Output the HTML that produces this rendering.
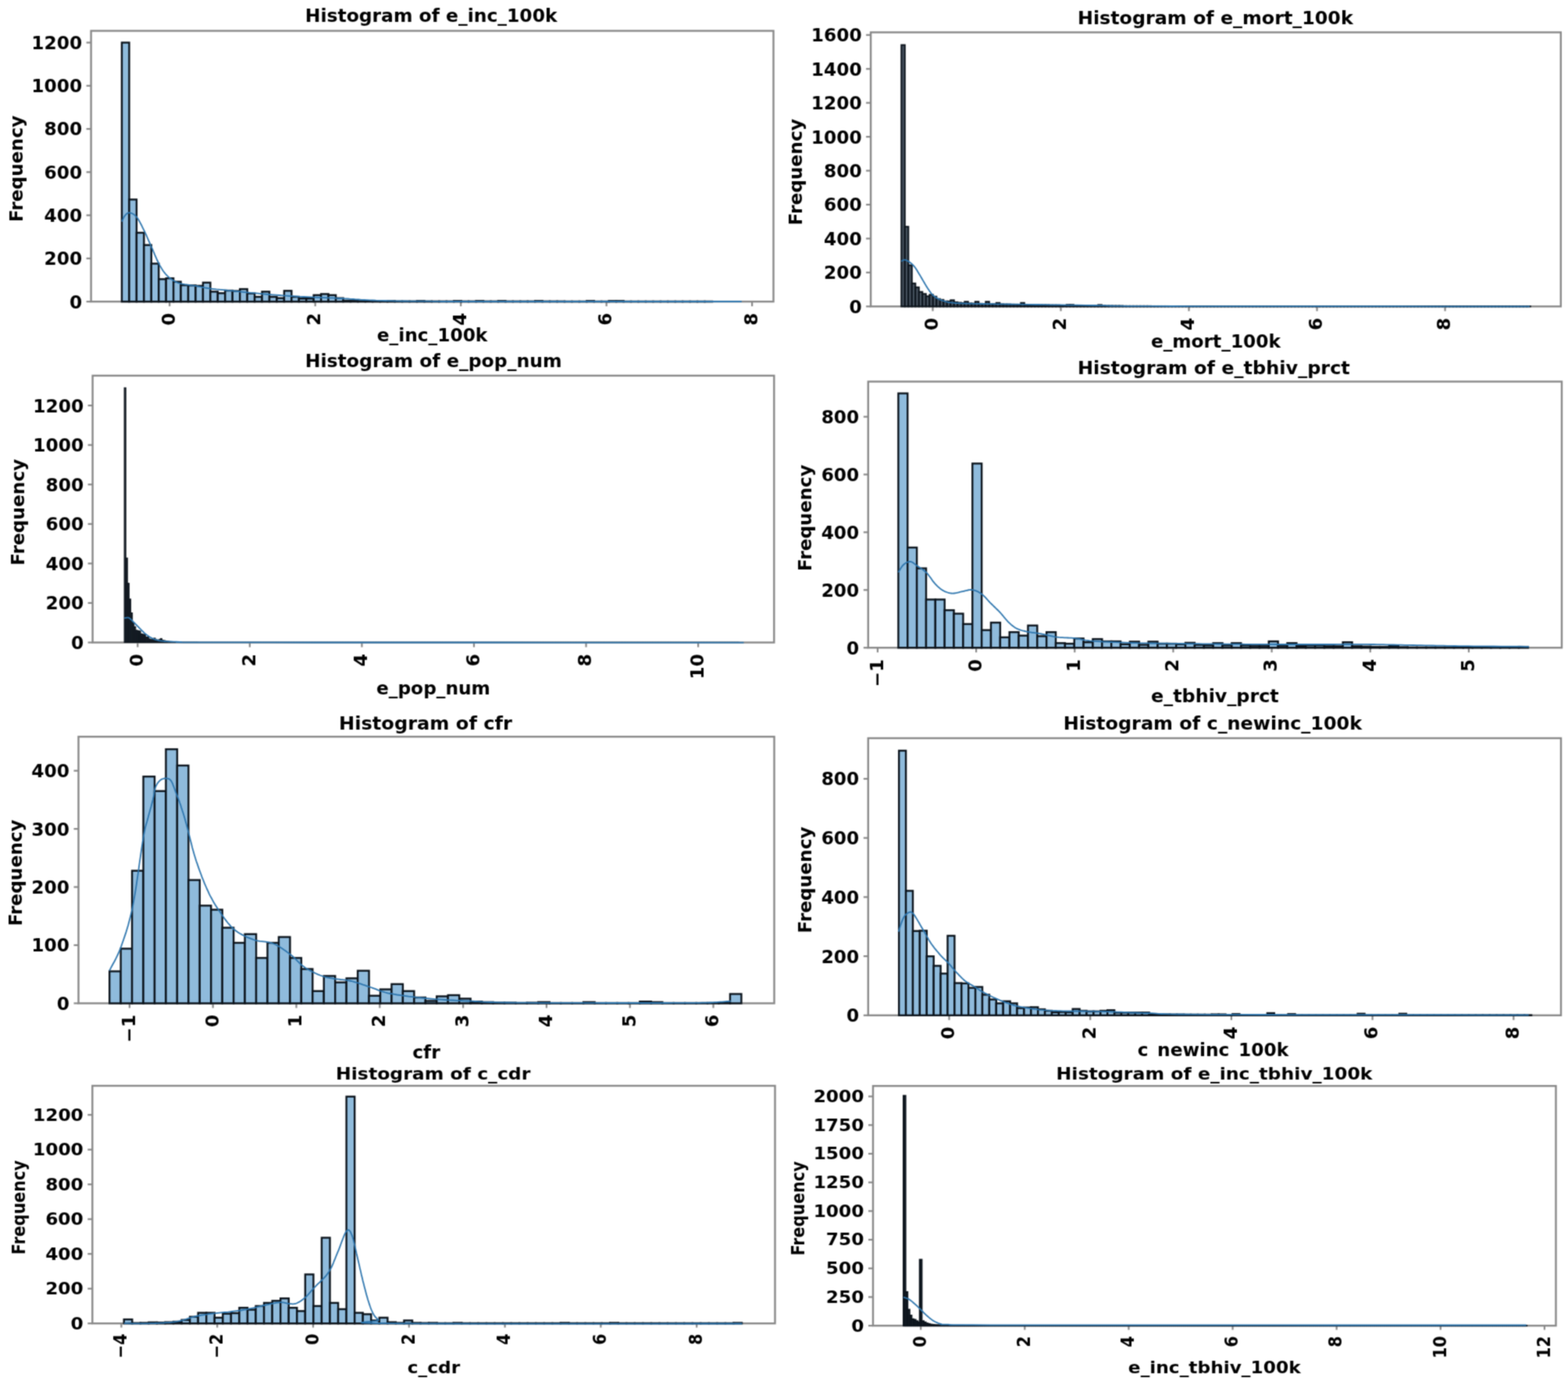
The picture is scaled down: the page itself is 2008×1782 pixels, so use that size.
<!DOCTYPE html>
<html><head><meta charset="utf-8"><title>Histograms</title>
<style>html,body{margin:0;padding:0;background:#fff;overflow:hidden;width:2008px;height:1782px;}svg{display:block;}#w{filter:url(#soft);}</style></head>
<body><div id="w"><svg width="2008" height="1782" viewBox="0 0 2008 1782" font-family="'DejaVu Sans', 'Liberation Sans', sans-serif" font-weight="bold" font-size="23.30" fill="#000">
<defs><filter id="soft" color-interpolation-filters="sRGB" x="0" y="0" width="2008" height="1782" filterUnits="userSpaceOnUse"><feConvolveMatrix order="3" kernelMatrix="0.04387 0.12171 0.04387 0.12171 0.33767 0.12171 0.04387 0.12171 0.04387" edgeMode="duplicate" preserveAlpha="true"/></filter></defs>
<g><rect width="2008" height="1782" fill="#fff"/>
<rect x="116.60" y="39.50" width="873.90" height="346.60" fill="none" stroke="#888888" stroke-width="2.4"/><g stroke="#888888" stroke-width="2.2"><line x1="110.60" y1="386.10" x2="116.60" y2="386.10"/><line x1="110.60" y1="330.84" x2="116.60" y2="330.84"/><line x1="110.60" y1="275.58" x2="116.60" y2="275.58"/><line x1="110.60" y1="220.32" x2="116.60" y2="220.32"/><line x1="110.60" y1="165.06" x2="116.60" y2="165.06"/><line x1="110.60" y1="109.80" x2="116.60" y2="109.80"/><line x1="110.60" y1="54.54" x2="116.60" y2="54.54"/><line x1="217.20" y1="386.10" x2="217.20" y2="392.10"/><line x1="403.68" y1="386.10" x2="403.68" y2="392.10"/><line x1="590.16" y1="386.10" x2="590.16" y2="392.10"/><line x1="776.64" y1="386.10" x2="776.64" y2="392.10"/><line x1="963.12" y1="386.10" x2="963.12" y2="392.10"/></g><g fill="#8fbbdc" stroke="#0b131b" stroke-width="2.40"><rect x="156.00" y="54.54" width="9.45" height="331.56"/><rect x="165.45" y="255.41" width="9.45" height="130.69"/><rect x="174.90" y="297.96" width="9.45" height="88.14"/><rect x="184.35" y="313.71" width="9.45" height="72.39"/><rect x="193.80" y="337.47" width="9.45" height="48.63"/><rect x="203.25" y="357.36" width="9.45" height="28.74"/><rect x="212.70" y="356.26" width="9.45" height="29.84"/><rect x="222.15" y="360.68" width="9.45" height="25.42"/><rect x="231.60" y="365.10" width="9.45" height="21.00"/><rect x="241.05" y="365.38" width="9.45" height="20.72"/><rect x="250.50" y="365.93" width="9.45" height="20.17"/><rect x="259.95" y="361.79" width="9.45" height="24.31"/><rect x="269.40" y="373.39" width="9.45" height="12.71"/><rect x="278.85" y="375.32" width="9.45" height="10.78"/><rect x="288.30" y="372.01" width="9.45" height="14.09"/><rect x="297.75" y="372.56" width="9.45" height="13.54"/><rect x="307.20" y="370.07" width="9.45" height="16.03"/><rect x="316.65" y="375.60" width="9.45" height="10.50"/><rect x="326.10" y="380.02" width="9.45" height="6.08"/><rect x="335.55" y="373.39" width="9.45" height="12.71"/><rect x="345.00" y="380.02" width="9.45" height="6.08"/><rect x="354.45" y="381.68" width="9.45" height="4.42"/><rect x="363.90" y="372.29" width="9.45" height="13.81"/><rect x="373.35" y="380.02" width="9.45" height="6.08"/><rect x="382.80" y="382.23" width="9.45" height="3.87"/><rect x="392.25" y="382.23" width="9.45" height="3.87"/><rect x="401.70" y="377.81" width="9.45" height="8.29"/><rect x="411.15" y="376.43" width="9.45" height="9.67"/><rect x="420.60" y="377.81" width="9.45" height="8.29"/><rect x="430.05" y="381.68" width="9.45" height="4.42"/><rect x="439.50" y="384.99" width="9.45" height="1.11"/><rect x="448.95" y="385.27" width="9.45" height="0.83"/><rect x="458.40" y="385.55" width="9.45" height="0.55"/><rect x="467.85" y="385.69" width="9.45" height="0.41"/><rect x="477.30" y="385.82" width="9.45" height="0.28"/><rect x="486.75" y="385.82" width="9.45" height="0.28"/><rect x="496.20" y="385.27" width="9.45" height="0.83"/><rect x="505.65" y="385.82" width="9.45" height="0.28"/><rect x="515.10" y="385.82" width="9.45" height="0.28"/><rect x="524.55" y="385.82" width="9.45" height="0.28"/><rect x="534.00" y="385.27" width="9.45" height="0.83"/><rect x="543.45" y="385.82" width="9.45" height="0.28"/><rect x="552.90" y="385.82" width="9.45" height="0.28"/><rect x="562.35" y="385.82" width="9.45" height="0.28"/><rect x="571.80" y="385.82" width="9.45" height="0.28"/><rect x="581.25" y="385.27" width="9.45" height="0.83"/><rect x="590.70" y="385.82" width="9.45" height="0.28"/><rect x="600.15" y="385.82" width="9.45" height="0.28"/><rect x="609.60" y="385.27" width="9.45" height="0.83"/><rect x="619.05" y="385.82" width="9.45" height="0.28"/><rect x="628.50" y="385.82" width="9.45" height="0.28"/><rect x="637.95" y="385.27" width="9.45" height="0.83"/><rect x="647.40" y="385.82" width="9.45" height="0.28"/><rect x="656.85" y="385.82" width="9.45" height="0.28"/><rect x="666.30" y="385.82" width="9.45" height="0.28"/><rect x="675.75" y="385.82" width="9.45" height="0.28"/><rect x="685.20" y="385.27" width="9.45" height="0.83"/><rect x="694.65" y="385.82" width="9.45" height="0.28"/><rect x="704.10" y="385.82" width="9.45" height="0.28"/><rect x="713.55" y="385.82" width="9.45" height="0.28"/><rect x="723.00" y="385.96" width="9.45" height="0.14"/><rect x="732.45" y="385.96" width="9.45" height="0.14"/><rect x="741.90" y="385.96" width="9.45" height="0.14"/><rect x="751.35" y="385.27" width="9.45" height="0.83"/><rect x="760.80" y="385.96" width="9.45" height="0.14"/><rect x="770.25" y="385.96" width="9.45" height="0.14"/><rect x="779.70" y="385.27" width="9.45" height="0.83"/><rect x="789.15" y="385.27" width="9.45" height="0.83"/><rect x="798.60" y="385.96" width="9.45" height="0.14"/><rect x="808.05" y="385.96" width="9.45" height="0.14"/><rect x="817.50" y="385.96" width="9.45" height="0.14"/><rect x="826.95" y="385.96" width="9.45" height="0.14"/><rect x="836.40" y="385.96" width="9.45" height="0.14"/><rect x="845.85" y="385.96" width="9.45" height="0.14"/><rect x="855.30" y="385.96" width="9.45" height="0.14"/><rect x="864.75" y="385.96" width="9.45" height="0.14"/><rect x="874.20" y="385.96" width="9.45" height="0.14"/><rect x="883.65" y="385.96" width="9.45" height="0.14"/><rect x="893.10" y="385.96" width="9.45" height="0.14"/><rect x="902.55" y="385.96" width="9.45" height="0.14"/></g><path d="M156.0 283.6 L156.2 283.1 L156.5 282.5 L156.9 281.8 L157.2 280.9 L157.6 280.0 L158.1 279.1 L158.5 278.2 L159.0 277.4 L159.5 276.6 L160.0 276.0 L160.5 275.4 L161.0 274.9 L161.5 274.3 L162.0 273.8 L162.5 273.4 L163.1 273.0 L163.7 272.7 L164.3 272.5 L165.0 272.4 L165.7 272.4 L166.5 272.5 L167.3 272.7 L168.2 272.9 L169.1 273.3 L170.0 273.7 L171.0 274.2 L171.9 274.9 L172.9 275.7 L173.9 276.6 L174.8 277.6 L175.7 278.8 L176.7 280.2 L177.6 281.7 L178.6 283.4 L179.5 285.1 L180.5 287.0 L181.5 288.9 L182.4 290.8 L183.4 292.8 L184.4 294.8 L185.4 296.8 L186.4 299.0 L187.4 301.2 L188.4 303.5 L189.4 305.8 L190.4 308.1 L191.4 310.4 L192.4 312.7 L193.4 315.0 L194.4 317.2 L195.4 319.4 L196.3 321.6 L197.3 323.8 L198.2 326.1 L199.2 328.3 L200.1 330.4 L201.0 332.5 L202.0 334.5 L202.9 336.4 L203.8 338.2 L204.7 339.9 L205.6 341.4 L206.5 342.9 L207.4 344.4 L208.2 345.7 L209.1 347.0 L210.0 348.2 L210.9 349.4 L211.8 350.5 L212.8 351.6 L213.8 352.7 L214.8 353.6 L215.8 354.6 L216.9 355.5 L217.9 356.3 L219.0 357.1 L220.0 357.8 L221.1 358.5 L222.1 359.2 L223.2 359.8 L224.2 360.4 L225.2 360.9 L226.1 361.3 L227.0 361.7 L228.0 362.1 L229.0 362.4 L230.0 362.7 L231.1 363.0 L232.3 363.3 L233.7 363.6 L235.2 363.9 L236.8 364.2 L238.5 364.4 L240.3 364.7 L242.2 364.9 L244.1 365.2 L246.0 365.4 L247.9 365.7 L249.8 365.9 L251.6 366.2 L253.3 366.5 L255.0 366.8 L256.6 367.1 L258.2 367.5 L259.8 367.8 L261.5 368.2 L263.2 368.5 L265.2 368.8 L267.2 369.2 L269.5 369.5 L271.9 369.8 L274.5 370.1 L277.1 370.4 L279.9 370.6 L282.8 370.9 L285.8 371.2 L289.0 371.5 L292.3 371.8 L295.8 372.1 L299.4 372.5 L303.3 372.9 L307.4 373.3 L311.7 373.8 L316.2 374.3 L320.9 374.8 L325.6 375.2 L330.3 375.7 L335.0 376.2 L339.7 376.6 L344.2 377.0 L348.7 377.4 L353.2 377.7 L357.6 378.0 L362.1 378.4 L366.6 378.7 L371.1 379.0 L375.6 379.2 L380.0 379.5 L384.5 379.8 L389.0 380.0 L393.5 380.2 L398.1 380.4 L402.7 380.6 L407.4 380.8 L412.0 380.9 L416.6 381.1 L421.1 381.3 L425.5 381.4 L429.8 381.6 L433.9 381.8 L437.8 382.0 L441.6 382.3 L445.3 382.5 L448.8 382.8 L452.3 383.0 L455.7 383.3 L459.2 383.5 L462.7 383.8 L466.3 384.0 L470.0 384.2 L473.8 384.4 L477.6 384.5 L481.4 384.7 L485.2 384.8 L489.1 384.9 L493.1 385.0 L497.1 385.1 L501.3 385.2 L505.6 385.3 L510.0 385.4 L514.6 385.5 L519.5 385.5 L524.6 385.6 L529.8 385.6 L535.0 385.7 L540.2 385.7 L545.4 385.7 L550.5 385.7 L555.4 385.8 L560.0 385.8 L563.0 385.8 L563.7 385.9 L563.0 385.9 L561.8 385.9 L561.3 385.9 L562.2 385.9 L565.5 386.0 L572.3 386.0 L583.5 386.0 L600.0 386.0 L624.0 386.0 L655.7 386.0 L693.2 386.0 L734.4 386.0 L777.4 386.0 L820.2 386.0 L860.8 386.0 L897.3 386.0 L927.6 386.0 L949.8 386.0" fill="none" stroke="#2b74ad" stroke-width="1.80" stroke-linejoin="round"/><g><text transform="translate(105.10 394.50)" text-anchor="end">0</text><text transform="translate(105.10 339.24)" text-anchor="end">200</text><text transform="translate(105.10 283.98)" text-anchor="end">400</text><text transform="translate(105.10 228.72)" text-anchor="end">600</text><text transform="translate(105.10 173.46)" text-anchor="end">800</text><text transform="translate(105.10 118.20)" text-anchor="end">1000</text><text transform="translate(105.10 62.94)" text-anchor="end">1200</text><text transform="translate(224.00 400.60) rotate(-90)" text-anchor="end">0</text><text transform="translate(410.48 400.60) rotate(-90)" text-anchor="end">2</text><text transform="translate(596.96 400.60) rotate(-90)" text-anchor="end">4</text><text transform="translate(783.44 400.60) rotate(-90)" text-anchor="end">6</text><text transform="translate(969.92 400.60) rotate(-90)" text-anchor="end">8</text></g><text transform="translate(552.20 28.30) scale(1.0070 1.0000)" text-anchor="middle">Histogram of e_inc_100k</text><text transform="translate(553.55 436.80)" text-anchor="middle">e_inc_100k</text><text transform="translate(29.40 216.00) rotate(-90)" text-anchor="middle">Frequency</text><rect x="1115.10" y="41.40" width="883.70" height="350.90" fill="none" stroke="#888888" stroke-width="2.4"/><g stroke="#888888" stroke-width="2.2"><line x1="1109.10" y1="392.30" x2="1115.10" y2="392.30"/><line x1="1109.10" y1="348.86" x2="1115.10" y2="348.86"/><line x1="1109.10" y1="305.42" x2="1115.10" y2="305.42"/><line x1="1109.10" y1="261.98" x2="1115.10" y2="261.98"/><line x1="1109.10" y1="218.54" x2="1115.10" y2="218.54"/><line x1="1109.10" y1="175.10" x2="1115.10" y2="175.10"/><line x1="1109.10" y1="131.66" x2="1115.10" y2="131.66"/><line x1="1109.10" y1="88.22" x2="1115.10" y2="88.22"/><line x1="1109.10" y1="44.78" x2="1115.10" y2="44.78"/><line x1="1194.50" y1="392.30" x2="1194.50" y2="398.30"/><line x1="1358.52" y1="392.30" x2="1358.52" y2="398.30"/><line x1="1522.54" y1="392.30" x2="1522.54" y2="398.30"/><line x1="1686.56" y1="392.30" x2="1686.56" y2="398.30"/><line x1="1850.58" y1="392.30" x2="1850.58" y2="398.30"/></g><g fill="#46525e" stroke="#0b131b" stroke-width="2.00"><rect x="1154.30" y="57.59" width="4.50" height="334.71"/><rect x="1158.80" y="290.22" width="4.50" height="102.08"/><rect x="1163.30" y="339.52" width="4.50" height="52.78"/><rect x="1167.80" y="362.76" width="4.50" height="29.54"/><rect x="1172.30" y="367.76" width="4.50" height="24.54"/><rect x="1176.80" y="373.62" width="4.50" height="18.68"/><rect x="1181.30" y="376.23" width="4.50" height="16.07"/><rect x="1185.80" y="379.27" width="4.50" height="13.03"/><rect x="1190.30" y="377.31" width="4.50" height="14.99"/><rect x="1194.80" y="379.70" width="4.50" height="12.60"/><rect x="1199.30" y="382.74" width="4.50" height="9.56"/><rect x="1203.80" y="383.83" width="4.50" height="8.47"/><rect x="1208.30" y="385.78" width="4.50" height="6.52"/><rect x="1212.80" y="385.78" width="4.50" height="6.52"/><rect x="1217.30" y="384.26" width="4.50" height="8.04"/><rect x="1221.80" y="386.87" width="4.50" height="5.43"/><rect x="1226.30" y="387.52" width="4.50" height="4.78"/><rect x="1230.80" y="387.96" width="4.50" height="4.34"/><rect x="1235.30" y="386.22" width="4.50" height="6.08"/><rect x="1239.80" y="388.39" width="4.50" height="3.91"/><rect x="1244.30" y="388.61" width="4.50" height="3.69"/><rect x="1248.80" y="386.22" width="4.50" height="6.08"/><rect x="1253.30" y="388.82" width="4.50" height="3.48"/><rect x="1257.80" y="389.04" width="4.50" height="3.26"/><rect x="1262.30" y="386.22" width="4.50" height="6.08"/><rect x="1266.80" y="389.26" width="4.50" height="3.04"/><rect x="1271.30" y="389.26" width="4.50" height="3.04"/><rect x="1275.80" y="387.74" width="4.50" height="4.56"/><rect x="1280.30" y="389.48" width="4.50" height="2.82"/><rect x="1284.80" y="389.69" width="4.50" height="2.61"/><rect x="1289.30" y="389.69" width="4.50" height="2.61"/><rect x="1293.80" y="389.91" width="4.50" height="2.39"/><rect x="1298.30" y="389.91" width="4.50" height="2.39"/><rect x="1302.80" y="390.13" width="4.50" height="2.17"/><rect x="1307.30" y="387.74" width="4.50" height="4.56"/><rect x="1311.80" y="390.13" width="4.50" height="2.17"/><rect x="1316.30" y="390.35" width="4.50" height="1.95"/><rect x="1320.80" y="390.35" width="4.50" height="1.95"/><rect x="1325.30" y="390.35" width="4.50" height="1.95"/><rect x="1329.80" y="390.56" width="4.50" height="1.74"/><rect x="1334.30" y="390.56" width="4.50" height="1.74"/><rect x="1338.80" y="390.56" width="4.50" height="1.74"/><rect x="1343.30" y="390.78" width="4.50" height="1.52"/><rect x="1347.80" y="390.78" width="4.50" height="1.52"/><rect x="1352.30" y="390.78" width="4.50" height="1.52"/><rect x="1356.80" y="391.00" width="4.50" height="1.30"/><rect x="1361.30" y="391.00" width="4.50" height="1.30"/><rect x="1365.80" y="390.13" width="4.50" height="2.17"/><rect x="1370.30" y="390.13" width="4.50" height="2.17"/><rect x="1374.80" y="391.21" width="4.50" height="1.09"/><rect x="1379.30" y="391.21" width="4.50" height="1.09"/><rect x="1383.80" y="391.21" width="4.50" height="1.09"/><rect x="1388.30" y="391.43" width="4.50" height="0.87"/><rect x="1392.80" y="391.43" width="4.50" height="0.87"/><rect x="1397.30" y="391.43" width="4.50" height="0.87"/><rect x="1401.80" y="391.43" width="4.50" height="0.87"/><rect x="1406.30" y="390.35" width="4.50" height="1.95"/><rect x="1410.80" y="391.43" width="4.50" height="0.87"/><rect x="1415.30" y="391.65" width="4.50" height="0.65"/><rect x="1419.80" y="391.65" width="4.50" height="0.65"/><rect x="1424.30" y="391.65" width="4.50" height="0.65"/><rect x="1428.80" y="391.65" width="4.50" height="0.65"/><rect x="1433.30" y="391.65" width="4.50" height="0.65"/><rect x="1437.80" y="391.87" width="4.50" height="0.43"/><rect x="1442.30" y="391.87" width="4.50" height="0.43"/><rect x="1446.80" y="391.87" width="4.50" height="0.43"/><rect x="1451.30" y="391.87" width="4.50" height="0.43"/><rect x="1455.80" y="391.87" width="4.50" height="0.43"/><rect x="1460.30" y="391.87" width="4.50" height="0.43"/><rect x="1464.80" y="391.87" width="4.50" height="0.43"/><rect x="1469.30" y="391.87" width="4.50" height="0.43"/><rect x="1473.80" y="391.97" width="4.50" height="0.33"/><rect x="1478.30" y="391.97" width="4.50" height="0.33"/><rect x="1482.80" y="391.97" width="4.50" height="0.33"/><rect x="1487.30" y="391.97" width="4.50" height="0.33"/><rect x="1491.80" y="391.97" width="4.50" height="0.33"/><rect x="1496.30" y="392.08" width="4.50" height="0.22"/><rect x="1500.80" y="392.08" width="4.50" height="0.22"/><rect x="1505.30" y="392.08" width="4.50" height="0.22"/><rect x="1509.80" y="392.08" width="4.50" height="0.22"/><rect x="1514.30" y="392.08" width="4.50" height="0.22"/><rect x="1518.80" y="392.08" width="4.50" height="0.22"/><rect x="1523.30" y="392.08" width="4.50" height="0.22"/><rect x="1527.80" y="392.08" width="4.50" height="0.22"/><rect x="1532.30" y="392.08" width="4.50" height="0.22"/><rect x="1536.80" y="392.08" width="4.50" height="0.22"/><rect x="1541.30" y="392.08" width="4.50" height="0.22"/><rect x="1545.80" y="392.08" width="4.50" height="0.22"/><rect x="1550.30" y="392.08" width="4.50" height="0.22"/><rect x="1554.80" y="392.19" width="4.50" height="0.11"/><rect x="1559.30" y="392.19" width="4.50" height="0.11"/><rect x="1563.80" y="392.19" width="4.50" height="0.11"/><rect x="1568.30" y="392.19" width="4.50" height="0.11"/><rect x="1572.80" y="392.19" width="4.50" height="0.11"/><rect x="1577.30" y="392.19" width="4.50" height="0.11"/><rect x="1581.80" y="392.19" width="4.50" height="0.11"/><rect x="1586.30" y="392.19" width="4.50" height="0.11"/><rect x="1590.80" y="392.19" width="4.50" height="0.11"/><rect x="1595.30" y="392.19" width="4.50" height="0.11"/><rect x="1599.80" y="392.19" width="4.50" height="0.11"/><rect x="1604.30" y="392.19" width="4.50" height="0.11"/><rect x="1608.80" y="392.19" width="4.50" height="0.11"/><rect x="1613.30" y="392.19" width="4.50" height="0.11"/><rect x="1617.80" y="392.19" width="4.50" height="0.11"/><rect x="1622.30" y="392.19" width="4.50" height="0.11"/><rect x="1626.80" y="392.19" width="4.50" height="0.11"/><rect x="1631.30" y="392.19" width="4.50" height="0.11"/><rect x="1635.80" y="392.19" width="4.50" height="0.11"/><rect x="1640.30" y="392.19" width="4.50" height="0.11"/><rect x="1644.80" y="392.19" width="4.50" height="0.11"/><rect x="1649.30" y="392.19" width="4.50" height="0.11"/><rect x="1653.80" y="392.19" width="4.50" height="0.11"/><rect x="1658.30" y="392.19" width="4.50" height="0.11"/><rect x="1662.80" y="392.19" width="4.50" height="0.11"/><rect x="1667.30" y="392.19" width="4.50" height="0.11"/><rect x="1671.80" y="392.19" width="4.50" height="0.11"/><rect x="1676.30" y="392.19" width="4.50" height="0.11"/><rect x="1680.80" y="392.19" width="4.50" height="0.11"/><rect x="1685.30" y="392.19" width="4.50" height="0.11"/><rect x="1689.80" y="392.19" width="4.50" height="0.11"/><rect x="1694.30" y="392.19" width="4.50" height="0.11"/><rect x="1698.80" y="392.19" width="4.50" height="0.11"/><rect x="1703.30" y="392.19" width="4.50" height="0.11"/><rect x="1707.80" y="392.19" width="4.50" height="0.11"/><rect x="1712.30" y="392.19" width="4.50" height="0.11"/><rect x="1716.80" y="392.19" width="4.50" height="0.11"/><rect x="1721.30" y="392.19" width="4.50" height="0.11"/><rect x="1725.80" y="392.19" width="4.50" height="0.11"/><rect x="1730.30" y="392.19" width="4.50" height="0.11"/><rect x="1734.80" y="392.19" width="4.50" height="0.11"/><rect x="1739.30" y="392.19" width="4.50" height="0.11"/><rect x="1743.80" y="392.19" width="4.50" height="0.11"/><rect x="1748.30" y="392.19" width="4.50" height="0.11"/><rect x="1752.80" y="392.19" width="4.50" height="0.11"/><rect x="1757.30" y="392.19" width="4.50" height="0.11"/><rect x="1761.80" y="392.19" width="4.50" height="0.11"/><rect x="1766.30" y="392.19" width="4.50" height="0.11"/><rect x="1770.80" y="392.19" width="4.50" height="0.11"/><rect x="1775.30" y="392.19" width="4.50" height="0.11"/><rect x="1779.80" y="392.19" width="4.50" height="0.11"/><rect x="1784.30" y="392.19" width="4.50" height="0.11"/><rect x="1788.80" y="392.19" width="4.50" height="0.11"/><rect x="1793.30" y="392.19" width="4.50" height="0.11"/><rect x="1797.80" y="392.19" width="4.50" height="0.11"/><rect x="1802.30" y="392.19" width="4.50" height="0.11"/><rect x="1806.80" y="392.19" width="4.50" height="0.11"/><rect x="1811.30" y="392.19" width="4.50" height="0.11"/><rect x="1815.80" y="392.19" width="4.50" height="0.11"/><rect x="1820.30" y="392.19" width="4.50" height="0.11"/><rect x="1824.80" y="392.19" width="4.50" height="0.11"/><rect x="1829.30" y="392.19" width="4.50" height="0.11"/><rect x="1833.80" y="392.19" width="4.50" height="0.11"/><rect x="1838.30" y="392.19" width="4.50" height="0.11"/><rect x="1842.80" y="392.19" width="4.50" height="0.11"/><rect x="1847.30" y="392.19" width="4.50" height="0.11"/><rect x="1851.80" y="392.19" width="4.50" height="0.11"/><rect x="1856.30" y="392.19" width="4.50" height="0.11"/><rect x="1860.80" y="392.19" width="4.50" height="0.11"/><rect x="1865.30" y="392.19" width="4.50" height="0.11"/><rect x="1869.80" y="392.19" width="4.50" height="0.11"/><rect x="1874.30" y="392.19" width="4.50" height="0.11"/><rect x="1878.80" y="392.19" width="4.50" height="0.11"/><rect x="1883.30" y="392.19" width="4.50" height="0.11"/><rect x="1887.80" y="392.19" width="4.50" height="0.11"/><rect x="1892.30" y="392.19" width="4.50" height="0.11"/><rect x="1896.80" y="392.19" width="4.50" height="0.11"/><rect x="1901.30" y="392.19" width="4.50" height="0.11"/><rect x="1905.80" y="392.19" width="4.50" height="0.11"/><rect x="1910.30" y="392.19" width="4.50" height="0.11"/><rect x="1914.80" y="392.19" width="4.50" height="0.11"/><rect x="1919.30" y="392.19" width="4.50" height="0.11"/><rect x="1923.80" y="392.19" width="4.50" height="0.11"/><rect x="1928.30" y="392.19" width="4.50" height="0.11"/><rect x="1932.80" y="392.19" width="4.50" height="0.11"/><rect x="1937.30" y="392.19" width="4.50" height="0.11"/><rect x="1941.80" y="392.19" width="4.50" height="0.11"/><rect x="1946.30" y="392.19" width="4.50" height="0.11"/><rect x="1950.80" y="392.19" width="4.50" height="0.11"/><rect x="1955.30" y="392.19" width="4.50" height="0.11"/></g><path d="M1154.3 334.5 L1154.6 334.4 L1155.0 334.1 L1155.4 333.8 L1155.9 333.5 L1156.4 333.2 L1157.0 332.9 L1157.7 332.7 L1158.3 332.6 L1159.0 332.6 L1159.8 332.8 L1160.6 333.1 L1161.5 333.6 L1162.5 334.1 L1163.5 334.7 L1164.6 335.4 L1165.7 336.2 L1166.7 337.1 L1167.8 337.9 L1168.8 338.9 L1169.7 339.8 L1170.6 340.8 L1171.4 341.9 L1172.3 343.0 L1173.1 344.2 L1173.9 345.4 L1174.7 346.7 L1175.4 348.0 L1176.2 349.2 L1176.9 350.5 L1177.7 351.7 L1178.4 352.9 L1179.1 354.1 L1179.8 355.3 L1180.5 356.5 L1181.2 357.7 L1181.9 358.9 L1182.6 360.1 L1183.3 361.3 L1184.0 362.5 L1184.7 363.7 L1185.5 364.9 L1186.2 366.2 L1187.0 367.5 L1187.8 368.8 L1188.6 370.0 L1189.5 371.3 L1190.3 372.5 L1191.1 373.6 L1191.8 374.6 L1192.6 375.6 L1193.3 376.4 L1194.0 377.2 L1194.7 377.9 L1195.3 378.5 L1196.0 379.1 L1196.6 379.6 L1197.3 380.1 L1198.0 380.6 L1198.8 381.1 L1199.6 381.6 L1200.5 382.1 L1201.4 382.6 L1202.4 383.0 L1203.4 383.4 L1204.4 383.9 L1205.5 384.2 L1206.5 384.6 L1207.6 385.0 L1208.6 385.3 L1209.6 385.6 L1210.5 385.9 L1211.4 386.1 L1212.3 386.4 L1213.1 386.6 L1213.9 386.8 L1214.8 387.0 L1215.8 387.1 L1216.9 387.3 L1218.1 387.4 L1219.5 387.6 L1220.9 387.7 L1222.2 387.9 L1223.5 388.0 L1224.8 388.1 L1226.3 388.2 L1228.1 388.2 L1230.2 388.3 L1232.7 388.4 L1235.7 388.5 L1239.4 388.6 L1243.6 388.7 L1248.2 388.8 L1253.1 388.9 L1258.5 389.0 L1264.2 389.1 L1270.4 389.2 L1277.0 389.3 L1284.0 389.4 L1291.4 389.5 L1299.2 389.6 L1307.6 389.7 L1316.7 389.9 L1326.5 390.0 L1336.6 390.2 L1347.1 390.3 L1357.8 390.4 L1368.5 390.6 L1379.2 390.7 L1389.8 390.9 L1400.0 391.0 L1408.4 391.1 L1414.3 391.2 L1418.8 391.4 L1422.8 391.5 L1427.6 391.6 L1434.2 391.7 L1443.6 391.8 L1457.0 391.9 L1475.5 391.9 L1500.0 392.0 L1533.4 392.1 L1576.2 392.1 L1625.8 392.2 L1679.8 392.2 L1735.8 392.2 L1791.2 392.2 L1843.7 392.3 L1890.8 392.3 L1930.1 392.3 L1959.0 392.3" fill="none" stroke="#2b74ad" stroke-width="1.80" stroke-linejoin="round"/><g><text transform="translate(1103.60 400.70)" text-anchor="end">0</text><text transform="translate(1103.60 357.26)" text-anchor="end">200</text><text transform="translate(1103.60 313.82)" text-anchor="end">400</text><text transform="translate(1103.60 270.38)" text-anchor="end">600</text><text transform="translate(1103.60 226.94)" text-anchor="end">800</text><text transform="translate(1103.60 183.50)" text-anchor="end">1000</text><text transform="translate(1103.60 140.06)" text-anchor="end">1200</text><text transform="translate(1103.60 96.62)" text-anchor="end">1400</text><text transform="translate(1103.60 53.18)" text-anchor="end">1600</text><text transform="translate(1201.30 406.80) rotate(-90)" text-anchor="end">0</text><text transform="translate(1365.32 406.80) rotate(-90)" text-anchor="end">2</text><text transform="translate(1529.34 406.80) rotate(-90)" text-anchor="end">4</text><text transform="translate(1693.36 406.80) rotate(-90)" text-anchor="end">6</text><text transform="translate(1857.38 406.80) rotate(-90)" text-anchor="end">8</text></g><text transform="translate(1556.35 31.20) scale(1.0230 1.0000)" text-anchor="middle">Histogram of e_mort_100k</text><text transform="translate(1556.95 445.40)" text-anchor="middle">e_mort_100k</text><text transform="translate(1026.60 220.30) rotate(-90)" text-anchor="middle">Frequency</text><rect x="118.60" y="480.90" width="872.70" height="341.60" fill="none" stroke="#888888" stroke-width="2.4"/><g stroke="#888888" stroke-width="2.2"><line x1="112.60" y1="822.50" x2="118.60" y2="822.50"/><line x1="112.60" y1="771.93" x2="118.60" y2="771.93"/><line x1="112.60" y1="721.37" x2="118.60" y2="721.37"/><line x1="112.60" y1="670.80" x2="118.60" y2="670.80"/><line x1="112.60" y1="620.24" x2="118.60" y2="620.24"/><line x1="112.60" y1="569.67" x2="118.60" y2="569.67"/><line x1="112.60" y1="519.10" x2="118.60" y2="519.10"/><line x1="176.30" y1="822.50" x2="176.30" y2="828.50"/><line x1="319.86" y1="822.50" x2="319.86" y2="828.50"/><line x1="463.42" y1="822.50" x2="463.42" y2="828.50"/><line x1="606.98" y1="822.50" x2="606.98" y2="828.50"/><line x1="750.54" y1="822.50" x2="750.54" y2="828.50"/><line x1="894.10" y1="822.50" x2="894.10" y2="828.50"/></g><g fill="#1c232b" stroke="#0b131b" stroke-width="1.00"><rect x="159.10" y="496.35" width="2.10" height="326.15"/><rect x="161.20" y="714.29" width="2.10" height="108.21"/><rect x="163.30" y="746.65" width="2.10" height="75.85"/><rect x="165.40" y="766.88" width="2.10" height="55.62"/><rect x="167.50" y="784.58" width="2.10" height="37.92"/><rect x="169.60" y="797.22" width="2.10" height="25.28"/><rect x="171.70" y="802.27" width="2.10" height="20.23"/><rect x="173.80" y="806.82" width="2.10" height="15.68"/><rect x="175.90" y="807.33" width="2.10" height="15.17"/><rect x="178.00" y="807.84" width="2.10" height="14.66"/><rect x="180.10" y="811.38" width="2.10" height="11.12"/><rect x="182.20" y="811.88" width="2.10" height="10.62"/><rect x="184.30" y="812.39" width="2.10" height="10.11"/><rect x="186.40" y="815.42" width="2.10" height="7.08"/><rect x="188.50" y="815.42" width="2.10" height="7.08"/><rect x="190.60" y="817.95" width="2.10" height="4.55"/><rect x="192.70" y="818.71" width="2.10" height="3.79"/><rect x="194.80" y="818.71" width="2.10" height="3.79"/><rect x="196.90" y="816.94" width="2.10" height="5.56"/><rect x="199.00" y="818.71" width="2.10" height="3.79"/><rect x="201.10" y="819.47" width="2.10" height="3.03"/><rect x="203.20" y="818.71" width="2.10" height="3.79"/><rect x="205.30" y="817.44" width="2.10" height="5.06"/><rect x="207.40" y="819.47" width="2.10" height="3.03"/><rect x="209.50" y="819.97" width="2.10" height="2.53"/><rect x="211.60" y="820.48" width="2.10" height="2.02"/><rect x="213.70" y="820.98" width="2.10" height="1.52"/><rect x="215.80" y="821.24" width="2.10" height="1.26"/><rect x="217.90" y="821.49" width="2.10" height="1.01"/><rect x="220.00" y="821.74" width="2.10" height="0.76"/><rect x="222.10" y="821.74" width="2.10" height="0.76"/><rect x="224.20" y="821.99" width="2.10" height="0.51"/><rect x="226.30" y="821.99" width="2.10" height="0.51"/><rect x="228.40" y="821.99" width="2.10" height="0.51"/><rect x="230.50" y="821.99" width="2.10" height="0.51"/><rect x="232.60" y="822.25" width="2.10" height="0.25"/><rect x="234.70" y="822.25" width="2.10" height="0.25"/><rect x="236.80" y="822.25" width="2.10" height="0.25"/><rect x="238.90" y="822.25" width="2.10" height="0.25"/><rect x="241.00" y="822.25" width="2.10" height="0.25"/><rect x="243.10" y="822.25" width="2.10" height="0.25"/><rect x="245.20" y="822.25" width="2.10" height="0.25"/><rect x="247.30" y="822.25" width="2.10" height="0.25"/><rect x="249.40" y="822.25" width="2.10" height="0.25"/><rect x="251.50" y="822.25" width="2.10" height="0.25"/><rect x="253.60" y="822.37" width="2.10" height="0.13"/><rect x="255.70" y="822.37" width="2.10" height="0.13"/><rect x="257.80" y="822.37" width="2.10" height="0.13"/><rect x="259.90" y="822.37" width="2.10" height="0.13"/><rect x="262.00" y="822.37" width="2.10" height="0.13"/><rect x="264.10" y="822.37" width="2.10" height="0.13"/><rect x="266.20" y="822.37" width="2.10" height="0.13"/><rect x="268.30" y="822.37" width="2.10" height="0.13"/><rect x="270.40" y="822.37" width="2.10" height="0.13"/><rect x="272.50" y="822.37" width="2.10" height="0.13"/><rect x="274.60" y="822.37" width="2.10" height="0.13"/><rect x="276.70" y="822.37" width="2.10" height="0.13"/><rect x="278.80" y="822.37" width="2.10" height="0.13"/><rect x="280.90" y="822.37" width="2.10" height="0.13"/><rect x="283.00" y="822.37" width="2.10" height="0.13"/><rect x="285.10" y="822.37" width="2.10" height="0.13"/><rect x="287.20" y="822.37" width="2.10" height="0.13"/><rect x="289.30" y="822.37" width="2.10" height="0.13"/><rect x="291.40" y="822.37" width="2.10" height="0.13"/><rect x="293.50" y="822.37" width="2.10" height="0.13"/><rect x="295.60" y="822.37" width="2.10" height="0.13"/><rect x="297.70" y="822.37" width="2.10" height="0.13"/><rect x="299.80" y="822.37" width="2.10" height="0.13"/><rect x="301.90" y="822.37" width="2.10" height="0.13"/><rect x="304.00" y="822.37" width="2.10" height="0.13"/><rect x="306.10" y="822.37" width="2.10" height="0.13"/><rect x="308.20" y="822.37" width="2.10" height="0.13"/><rect x="310.30" y="822.37" width="2.10" height="0.13"/><rect x="312.40" y="822.37" width="2.10" height="0.13"/><rect x="314.50" y="822.37" width="2.10" height="0.13"/><rect x="316.60" y="822.37" width="2.10" height="0.13"/><rect x="318.70" y="822.37" width="2.10" height="0.13"/><rect x="320.80" y="822.37" width="2.10" height="0.13"/><rect x="322.90" y="822.37" width="2.10" height="0.13"/><rect x="325.00" y="822.37" width="2.10" height="0.13"/><rect x="327.10" y="822.37" width="2.10" height="0.13"/><rect x="329.20" y="822.37" width="2.10" height="0.13"/><rect x="331.30" y="822.37" width="2.10" height="0.13"/><rect x="333.40" y="822.37" width="2.10" height="0.13"/><rect x="335.50" y="822.37" width="2.10" height="0.13"/><rect x="337.60" y="822.37" width="2.10" height="0.13"/><rect x="339.70" y="822.37" width="2.10" height="0.13"/><rect x="341.80" y="822.37" width="2.10" height="0.13"/><rect x="343.90" y="822.37" width="2.10" height="0.13"/><rect x="346.00" y="822.37" width="2.10" height="0.13"/><rect x="348.10" y="822.37" width="2.10" height="0.13"/><rect x="350.20" y="822.37" width="2.10" height="0.13"/><rect x="352.30" y="822.37" width="2.10" height="0.13"/><rect x="354.40" y="822.37" width="2.10" height="0.13"/><rect x="356.50" y="822.37" width="2.10" height="0.13"/><rect x="358.60" y="822.37" width="2.10" height="0.13"/><rect x="360.70" y="822.37" width="2.10" height="0.13"/><rect x="362.80" y="822.37" width="2.10" height="0.13"/><rect x="364.90" y="822.37" width="2.10" height="0.13"/><rect x="367.00" y="822.37" width="2.10" height="0.13"/><rect x="369.10" y="822.37" width="2.10" height="0.13"/><rect x="371.20" y="822.37" width="2.10" height="0.13"/><rect x="373.30" y="822.37" width="2.10" height="0.13"/><rect x="375.40" y="822.37" width="2.10" height="0.13"/><rect x="377.50" y="822.37" width="2.10" height="0.13"/><rect x="379.60" y="822.37" width="2.10" height="0.13"/><rect x="381.70" y="822.37" width="2.10" height="0.13"/><rect x="383.80" y="822.37" width="2.10" height="0.13"/><rect x="385.90" y="822.37" width="2.10" height="0.13"/><rect x="388.00" y="822.37" width="2.10" height="0.13"/><rect x="390.10" y="822.37" width="2.10" height="0.13"/><rect x="392.20" y="822.37" width="2.10" height="0.13"/><rect x="394.30" y="822.37" width="2.10" height="0.13"/><rect x="396.40" y="822.37" width="2.10" height="0.13"/><rect x="398.50" y="822.37" width="2.10" height="0.13"/><rect x="400.60" y="822.37" width="2.10" height="0.13"/><rect x="402.70" y="822.37" width="2.10" height="0.13"/><rect x="404.80" y="822.37" width="2.10" height="0.13"/><rect x="406.90" y="822.37" width="2.10" height="0.13"/><rect x="409.00" y="822.37" width="2.10" height="0.13"/><rect x="411.10" y="822.37" width="2.10" height="0.13"/><rect x="413.20" y="822.37" width="2.10" height="0.13"/><rect x="415.30" y="822.37" width="2.10" height="0.13"/><rect x="417.40" y="822.37" width="2.10" height="0.13"/><rect x="419.50" y="822.37" width="2.10" height="0.13"/><rect x="421.60" y="822.37" width="2.10" height="0.13"/><rect x="423.70" y="822.37" width="2.10" height="0.13"/><rect x="425.80" y="822.37" width="2.10" height="0.13"/><rect x="427.90" y="822.37" width="2.10" height="0.13"/><rect x="430.00" y="822.37" width="2.10" height="0.13"/><rect x="432.10" y="822.37" width="2.10" height="0.13"/><rect x="434.20" y="822.37" width="2.10" height="0.13"/><rect x="436.30" y="822.37" width="2.10" height="0.13"/><rect x="438.40" y="822.37" width="2.10" height="0.13"/><rect x="440.50" y="822.37" width="2.10" height="0.13"/><rect x="442.60" y="822.37" width="2.10" height="0.13"/><rect x="444.70" y="822.37" width="2.10" height="0.13"/><rect x="446.80" y="822.37" width="2.10" height="0.13"/><rect x="448.90" y="822.37" width="2.10" height="0.13"/><rect x="451.00" y="822.37" width="2.10" height="0.13"/><rect x="453.10" y="822.37" width="2.10" height="0.13"/><rect x="455.20" y="822.37" width="2.10" height="0.13"/><rect x="457.30" y="822.37" width="2.10" height="0.13"/><rect x="459.40" y="822.37" width="2.10" height="0.13"/><rect x="461.50" y="822.37" width="2.10" height="0.13"/><rect x="463.60" y="822.37" width="2.10" height="0.13"/><rect x="465.70" y="822.37" width="2.10" height="0.13"/><rect x="467.80" y="822.37" width="2.10" height="0.13"/><rect x="469.90" y="822.37" width="2.10" height="0.13"/><rect x="472.00" y="822.37" width="2.10" height="0.13"/><rect x="474.10" y="822.37" width="2.10" height="0.13"/><rect x="476.20" y="822.37" width="2.10" height="0.13"/><rect x="478.30" y="822.37" width="2.10" height="0.13"/><rect x="480.40" y="822.37" width="2.10" height="0.13"/><rect x="482.50" y="822.37" width="2.10" height="0.13"/><rect x="484.60" y="822.37" width="2.10" height="0.13"/><rect x="486.70" y="822.37" width="2.10" height="0.13"/><rect x="488.80" y="822.37" width="2.10" height="0.13"/><rect x="490.90" y="822.37" width="2.10" height="0.13"/><rect x="493.00" y="822.37" width="2.10" height="0.13"/><rect x="495.10" y="822.37" width="2.10" height="0.13"/><rect x="497.20" y="822.37" width="2.10" height="0.13"/><rect x="499.30" y="822.37" width="2.10" height="0.13"/><rect x="501.40" y="822.37" width="2.10" height="0.13"/><rect x="503.50" y="822.37" width="2.10" height="0.13"/><rect x="505.60" y="822.37" width="2.10" height="0.13"/><rect x="507.70" y="822.37" width="2.10" height="0.13"/><rect x="509.80" y="822.37" width="2.10" height="0.13"/><rect x="511.90" y="822.37" width="2.10" height="0.13"/><rect x="514.00" y="822.37" width="2.10" height="0.13"/><rect x="516.10" y="822.37" width="2.10" height="0.13"/><rect x="518.20" y="822.37" width="2.10" height="0.13"/><rect x="520.30" y="822.37" width="2.10" height="0.13"/><rect x="522.40" y="822.37" width="2.10" height="0.13"/><rect x="524.50" y="822.37" width="2.10" height="0.13"/><rect x="526.60" y="822.37" width="2.10" height="0.13"/><rect x="528.70" y="822.37" width="2.10" height="0.13"/><rect x="530.80" y="822.37" width="2.10" height="0.13"/><rect x="532.90" y="822.37" width="2.10" height="0.13"/><rect x="535.00" y="822.37" width="2.10" height="0.13"/><rect x="537.10" y="822.37" width="2.10" height="0.13"/><rect x="539.20" y="822.37" width="2.10" height="0.13"/><rect x="541.30" y="822.37" width="2.10" height="0.13"/><rect x="543.40" y="822.37" width="2.10" height="0.13"/><rect x="545.50" y="822.37" width="2.10" height="0.13"/><rect x="547.60" y="822.37" width="2.10" height="0.13"/><rect x="549.70" y="822.37" width="2.10" height="0.13"/><rect x="551.80" y="822.37" width="2.10" height="0.13"/><rect x="553.90" y="822.37" width="2.10" height="0.13"/><rect x="556.00" y="822.37" width="2.10" height="0.13"/><rect x="558.10" y="822.37" width="2.10" height="0.13"/><rect x="560.20" y="822.37" width="2.10" height="0.13"/><rect x="562.30" y="822.37" width="2.10" height="0.13"/><rect x="564.40" y="822.37" width="2.10" height="0.13"/><rect x="566.50" y="822.37" width="2.10" height="0.13"/><rect x="568.60" y="822.37" width="2.10" height="0.13"/><rect x="570.70" y="822.37" width="2.10" height="0.13"/><rect x="572.80" y="822.37" width="2.10" height="0.13"/><rect x="574.90" y="822.37" width="2.10" height="0.13"/><rect x="577.00" y="822.37" width="2.10" height="0.13"/><rect x="579.10" y="822.37" width="2.10" height="0.13"/><rect x="581.20" y="822.37" width="2.10" height="0.13"/><rect x="583.30" y="822.37" width="2.10" height="0.13"/><rect x="585.40" y="822.37" width="2.10" height="0.13"/><rect x="587.50" y="822.37" width="2.10" height="0.13"/><rect x="589.60" y="822.37" width="2.10" height="0.13"/><rect x="591.70" y="822.37" width="2.10" height="0.13"/><rect x="593.80" y="822.37" width="2.10" height="0.13"/><rect x="595.90" y="822.37" width="2.10" height="0.13"/><rect x="598.00" y="822.37" width="2.10" height="0.13"/><rect x="600.10" y="822.37" width="2.10" height="0.13"/><rect x="602.20" y="822.37" width="2.10" height="0.13"/><rect x="604.30" y="822.37" width="2.10" height="0.13"/><rect x="606.40" y="822.37" width="2.10" height="0.13"/><rect x="608.50" y="822.37" width="2.10" height="0.13"/><rect x="610.60" y="822.37" width="2.10" height="0.13"/><rect x="612.70" y="822.37" width="2.10" height="0.13"/><rect x="614.80" y="822.37" width="2.10" height="0.13"/><rect x="616.90" y="822.37" width="2.10" height="0.13"/><rect x="619.00" y="822.37" width="2.10" height="0.13"/><rect x="621.10" y="822.37" width="2.10" height="0.13"/><rect x="623.20" y="822.37" width="2.10" height="0.13"/><rect x="625.30" y="822.37" width="2.10" height="0.13"/><rect x="627.40" y="822.37" width="2.10" height="0.13"/><rect x="629.50" y="822.37" width="2.10" height="0.13"/><rect x="631.60" y="822.37" width="2.10" height="0.13"/><rect x="633.70" y="822.37" width="2.10" height="0.13"/><rect x="635.80" y="822.37" width="2.10" height="0.13"/><rect x="637.90" y="822.37" width="2.10" height="0.13"/><rect x="640.00" y="822.37" width="2.10" height="0.13"/><rect x="642.10" y="822.37" width="2.10" height="0.13"/><rect x="644.20" y="822.37" width="2.10" height="0.13"/><rect x="646.30" y="822.37" width="2.10" height="0.13"/><rect x="648.40" y="822.37" width="2.10" height="0.13"/><rect x="650.50" y="822.37" width="2.10" height="0.13"/><rect x="652.60" y="822.37" width="2.10" height="0.13"/><rect x="654.70" y="822.37" width="2.10" height="0.13"/><rect x="656.80" y="822.37" width="2.10" height="0.13"/><rect x="658.90" y="822.37" width="2.10" height="0.13"/><rect x="661.00" y="822.37" width="2.10" height="0.13"/><rect x="663.10" y="822.37" width="2.10" height="0.13"/><rect x="665.20" y="822.37" width="2.10" height="0.13"/><rect x="667.30" y="822.37" width="2.10" height="0.13"/><rect x="669.40" y="822.37" width="2.10" height="0.13"/><rect x="671.50" y="822.37" width="2.10" height="0.13"/><rect x="673.60" y="822.37" width="2.10" height="0.13"/><rect x="675.70" y="822.37" width="2.10" height="0.13"/><rect x="677.80" y="822.37" width="2.10" height="0.13"/><rect x="679.90" y="822.37" width="2.10" height="0.13"/><rect x="682.00" y="822.37" width="2.10" height="0.13"/><rect x="684.10" y="822.37" width="2.10" height="0.13"/><rect x="686.20" y="822.37" width="2.10" height="0.13"/><rect x="688.30" y="822.37" width="2.10" height="0.13"/><rect x="690.40" y="822.37" width="2.10" height="0.13"/><rect x="692.50" y="822.37" width="2.10" height="0.13"/><rect x="694.60" y="822.37" width="2.10" height="0.13"/><rect x="696.70" y="822.37" width="2.10" height="0.13"/><rect x="698.80" y="822.37" width="2.10" height="0.13"/><rect x="700.90" y="822.37" width="2.10" height="0.13"/><rect x="703.00" y="822.37" width="2.10" height="0.13"/><rect x="705.10" y="822.37" width="2.10" height="0.13"/><rect x="707.20" y="822.37" width="2.10" height="0.13"/><rect x="709.30" y="822.37" width="2.10" height="0.13"/><rect x="711.40" y="822.37" width="2.10" height="0.13"/><rect x="713.50" y="822.37" width="2.10" height="0.13"/><rect x="715.60" y="822.37" width="2.10" height="0.13"/><rect x="717.70" y="822.37" width="2.10" height="0.13"/><rect x="719.80" y="822.37" width="2.10" height="0.13"/><rect x="721.90" y="822.37" width="2.10" height="0.13"/><rect x="724.00" y="822.37" width="2.10" height="0.13"/><rect x="726.10" y="822.37" width="2.10" height="0.13"/><rect x="728.20" y="822.37" width="2.10" height="0.13"/><rect x="730.30" y="822.37" width="2.10" height="0.13"/><rect x="732.40" y="822.37" width="2.10" height="0.13"/><rect x="734.50" y="822.37" width="2.10" height="0.13"/><rect x="736.60" y="822.37" width="2.10" height="0.13"/><rect x="738.70" y="822.37" width="2.10" height="0.13"/><rect x="740.80" y="822.37" width="2.10" height="0.13"/><rect x="742.90" y="822.37" width="2.10" height="0.13"/><rect x="745.00" y="822.37" width="2.10" height="0.13"/><rect x="747.10" y="822.37" width="2.10" height="0.13"/><rect x="749.20" y="822.37" width="2.10" height="0.13"/><rect x="751.30" y="822.37" width="2.10" height="0.13"/><rect x="753.40" y="822.37" width="2.10" height="0.13"/><rect x="755.50" y="822.37" width="2.10" height="0.13"/><rect x="757.60" y="822.37" width="2.10" height="0.13"/><rect x="759.70" y="822.37" width="2.10" height="0.13"/><rect x="761.80" y="822.37" width="2.10" height="0.13"/><rect x="763.90" y="822.37" width="2.10" height="0.13"/><rect x="766.00" y="822.37" width="2.10" height="0.13"/><rect x="768.10" y="822.37" width="2.10" height="0.13"/><rect x="770.20" y="822.37" width="2.10" height="0.13"/><rect x="772.30" y="822.37" width="2.10" height="0.13"/><rect x="774.40" y="822.37" width="2.10" height="0.13"/><rect x="776.50" y="822.37" width="2.10" height="0.13"/><rect x="778.60" y="822.37" width="2.10" height="0.13"/><rect x="780.70" y="822.37" width="2.10" height="0.13"/><rect x="782.80" y="822.37" width="2.10" height="0.13"/><rect x="784.90" y="822.37" width="2.10" height="0.13"/><rect x="787.00" y="822.37" width="2.10" height="0.13"/><rect x="789.10" y="822.37" width="2.10" height="0.13"/><rect x="791.20" y="822.37" width="2.10" height="0.13"/><rect x="793.30" y="822.37" width="2.10" height="0.13"/><rect x="795.40" y="822.37" width="2.10" height="0.13"/><rect x="797.50" y="822.37" width="2.10" height="0.13"/><rect x="799.60" y="822.37" width="2.10" height="0.13"/><rect x="801.70" y="822.37" width="2.10" height="0.13"/><rect x="803.80" y="822.37" width="2.10" height="0.13"/><rect x="805.90" y="822.37" width="2.10" height="0.13"/><rect x="808.00" y="822.37" width="2.10" height="0.13"/><rect x="810.10" y="822.37" width="2.10" height="0.13"/><rect x="812.20" y="822.37" width="2.10" height="0.13"/><rect x="814.30" y="822.37" width="2.10" height="0.13"/><rect x="816.40" y="822.37" width="2.10" height="0.13"/><rect x="818.50" y="822.37" width="2.10" height="0.13"/><rect x="820.60" y="822.37" width="2.10" height="0.13"/><rect x="822.70" y="822.37" width="2.10" height="0.13"/><rect x="824.80" y="822.37" width="2.10" height="0.13"/><rect x="826.90" y="822.37" width="2.10" height="0.13"/><rect x="829.00" y="822.37" width="2.10" height="0.13"/><rect x="831.10" y="822.37" width="2.10" height="0.13"/><rect x="833.20" y="822.37" width="2.10" height="0.13"/><rect x="835.30" y="822.37" width="2.10" height="0.13"/><rect x="837.40" y="822.37" width="2.10" height="0.13"/><rect x="839.50" y="822.37" width="2.10" height="0.13"/><rect x="841.60" y="822.37" width="2.10" height="0.13"/><rect x="843.70" y="822.37" width="2.10" height="0.13"/><rect x="845.80" y="822.37" width="2.10" height="0.13"/><rect x="847.90" y="822.37" width="2.10" height="0.13"/><rect x="850.00" y="822.37" width="2.10" height="0.13"/><rect x="852.10" y="822.37" width="2.10" height="0.13"/><rect x="854.20" y="822.37" width="2.10" height="0.13"/><rect x="856.30" y="822.37" width="2.10" height="0.13"/><rect x="858.40" y="822.37" width="2.10" height="0.13"/><rect x="860.50" y="822.37" width="2.10" height="0.13"/><rect x="862.60" y="822.37" width="2.10" height="0.13"/><rect x="864.70" y="822.37" width="2.10" height="0.13"/><rect x="866.80" y="822.37" width="2.10" height="0.13"/><rect x="868.90" y="822.37" width="2.10" height="0.13"/><rect x="871.00" y="822.37" width="2.10" height="0.13"/><rect x="873.10" y="822.37" width="2.10" height="0.13"/><rect x="875.20" y="822.37" width="2.10" height="0.13"/><rect x="877.30" y="822.37" width="2.10" height="0.13"/><rect x="879.40" y="822.37" width="2.10" height="0.13"/><rect x="881.50" y="822.37" width="2.10" height="0.13"/><rect x="883.60" y="822.37" width="2.10" height="0.13"/><rect x="885.70" y="822.37" width="2.10" height="0.13"/><rect x="887.80" y="822.37" width="2.10" height="0.13"/><rect x="889.90" y="822.37" width="2.10" height="0.13"/><rect x="892.00" y="822.37" width="2.10" height="0.13"/><rect x="894.10" y="822.37" width="2.10" height="0.13"/><rect x="896.20" y="822.37" width="2.10" height="0.13"/><rect x="898.30" y="822.37" width="2.10" height="0.13"/><rect x="900.40" y="822.37" width="2.10" height="0.13"/><rect x="902.50" y="822.37" width="2.10" height="0.13"/><rect x="904.60" y="822.37" width="2.10" height="0.13"/><rect x="906.70" y="822.37" width="2.10" height="0.13"/><rect x="908.80" y="822.37" width="2.10" height="0.13"/><rect x="910.90" y="822.37" width="2.10" height="0.13"/><rect x="913.00" y="822.37" width="2.10" height="0.13"/><rect x="915.10" y="822.37" width="2.10" height="0.13"/><rect x="917.20" y="822.37" width="2.10" height="0.13"/><rect x="919.30" y="822.37" width="2.10" height="0.13"/><rect x="921.40" y="822.37" width="2.10" height="0.13"/><rect x="923.50" y="822.37" width="2.10" height="0.13"/><rect x="925.60" y="822.37" width="2.10" height="0.13"/><rect x="927.70" y="822.37" width="2.10" height="0.13"/><rect x="929.80" y="822.37" width="2.10" height="0.13"/><rect x="931.90" y="822.37" width="2.10" height="0.13"/><rect x="934.00" y="822.37" width="2.10" height="0.13"/><rect x="936.10" y="822.37" width="2.10" height="0.13"/><rect x="938.20" y="822.37" width="2.10" height="0.13"/><rect x="940.30" y="822.37" width="2.10" height="0.13"/><rect x="942.40" y="822.37" width="2.10" height="0.13"/><rect x="944.50" y="822.37" width="2.10" height="0.13"/></g><path d="M159.1 791.4 L159.4 791.3 L159.9 791.2 L160.4 791.1 L161.0 790.9 L161.6 790.8 L162.3 790.7 L162.9 790.6 L163.6 790.6 L164.3 790.7 L164.9 790.9 L165.5 791.2 L166.1 791.6 L166.8 792.2 L167.4 792.7 L168.1 793.4 L168.7 794.0 L169.4 794.7 L170.0 795.4 L170.7 796.1 L171.3 796.7 L171.9 797.3 L172.6 797.9 L173.2 798.5 L173.8 799.2 L174.4 799.8 L175.1 800.4 L175.7 801.1 L176.3 801.7 L177.0 802.4 L177.7 803.1 L178.4 803.8 L179.1 804.6 L179.9 805.3 L180.6 806.1 L181.4 806.9 L182.2 807.7 L182.9 808.5 L183.7 809.2 L184.4 809.9 L185.2 810.6 L185.9 811.2 L186.7 811.8 L187.4 812.4 L188.2 813.0 L188.9 813.5 L189.6 814.0 L190.4 814.5 L191.1 815.0 L191.9 815.5 L192.6 815.9 L193.3 816.3 L194.1 816.7 L194.8 817.1 L195.5 817.4 L196.3 817.7 L197.0 818.0 L197.8 818.3 L198.5 818.6 L199.3 818.9 L200.1 819.1 L200.9 819.3 L201.5 819.5 L202.2 819.7 L202.8 819.9 L203.5 820.0 L204.2 820.2 L205.1 820.3 L206.1 820.4 L207.2 820.6 L208.6 820.7 L210.0 820.8 L211.3 821.0 L212.5 821.1 L213.9 821.2 L215.5 821.3 L217.3 821.4 L219.6 821.5 L222.4 821.6 L225.8 821.7 L230.0 821.8 L232.4 821.9 L231.6 822.0 L229.1 822.0 L226.5 822.1 L225.6 822.2 L227.7 822.2 L234.7 822.3 L247.9 822.3 L269.2 822.4 L300.0 822.4 L344.6 822.4 L403.7 822.5 L473.5 822.5 L550.4 822.5 L630.6 822.5 L710.5 822.6 L786.4 822.6 L854.4 822.6 L911.1 822.6 L952.5 822.6" fill="none" stroke="#2b74ad" stroke-width="1.80" stroke-linejoin="round"/><g><text transform="translate(107.10 830.90)" text-anchor="end">0</text><text transform="translate(107.10 780.33)" text-anchor="end">200</text><text transform="translate(107.10 729.77)" text-anchor="end">400</text><text transform="translate(107.10 679.20)" text-anchor="end">600</text><text transform="translate(107.10 628.64)" text-anchor="end">800</text><text transform="translate(107.10 578.07)" text-anchor="end">1000</text><text transform="translate(107.10 527.50)" text-anchor="end">1200</text><text transform="translate(183.10 837.00) rotate(-90)" text-anchor="end">0</text><text transform="translate(326.66 837.00) rotate(-90)" text-anchor="end">2</text><text transform="translate(470.22 837.00) rotate(-90)" text-anchor="end">4</text><text transform="translate(613.78 837.00) rotate(-90)" text-anchor="end">6</text><text transform="translate(757.34 837.00) rotate(-90)" text-anchor="end">8</text><text transform="translate(900.90 837.00) rotate(-90)" text-anchor="end">10</text></g><text transform="translate(555.15 470.30) scale(1.0125 1.0000)" text-anchor="middle">Histogram of e_pop_num</text><text transform="translate(554.95 889.00)" text-anchor="middle">e_pop_num</text><text transform="translate(31.30 655.80) rotate(-90)" text-anchor="middle">Frequency</text><rect x="1111.80" y="488.50" width="888.20" height="340.70" fill="none" stroke="#888888" stroke-width="2.4"/><g stroke="#888888" stroke-width="2.2"><line x1="1105.80" y1="829.20" x2="1111.80" y2="829.20"/><line x1="1105.80" y1="755.28" x2="1111.80" y2="755.28"/><line x1="1105.80" y1="681.36" x2="1111.80" y2="681.36"/><line x1="1105.80" y1="607.44" x2="1111.80" y2="607.44"/><line x1="1105.80" y1="533.52" x2="1111.80" y2="533.52"/><line x1="1123.93" y1="829.20" x2="1123.93" y2="835.20"/><line x1="1250.10" y1="829.20" x2="1250.10" y2="835.20"/><line x1="1376.27" y1="829.20" x2="1376.27" y2="835.20"/><line x1="1502.44" y1="829.20" x2="1502.44" y2="835.20"/><line x1="1628.61" y1="829.20" x2="1628.61" y2="835.20"/><line x1="1754.78" y1="829.20" x2="1754.78" y2="835.20"/><line x1="1880.95" y1="829.20" x2="1880.95" y2="835.20"/></g><g fill="#8fbbdc" stroke="#0b131b" stroke-width="2.40"><rect x="1150.40" y="503.58" width="11.86" height="325.62"/><rect x="1162.26" y="700.95" width="11.86" height="128.25"/><rect x="1174.12" y="727.56" width="11.86" height="101.64"/><rect x="1185.98" y="767.48" width="11.86" height="61.72"/><rect x="1197.84" y="767.48" width="11.86" height="61.72"/><rect x="1209.70" y="781.15" width="11.86" height="48.05"/><rect x="1221.56" y="785.59" width="11.86" height="43.61"/><rect x="1233.42" y="798.89" width="11.86" height="30.31"/><rect x="1245.28" y="593.40" width="11.86" height="235.80"/><rect x="1257.14" y="806.65" width="11.86" height="22.55"/><rect x="1269.00" y="797.04" width="11.86" height="32.16"/><rect x="1280.86" y="815.89" width="11.86" height="13.31"/><rect x="1292.72" y="809.24" width="11.86" height="19.96"/><rect x="1304.58" y="813.68" width="11.86" height="15.52"/><rect x="1316.44" y="800.74" width="11.86" height="28.46"/><rect x="1328.30" y="814.42" width="11.86" height="14.78"/><rect x="1340.16" y="809.24" width="11.86" height="19.96"/><rect x="1352.02" y="823.29" width="11.86" height="5.91"/><rect x="1363.88" y="824.03" width="11.86" height="5.17"/><rect x="1375.74" y="817.37" width="11.86" height="11.83"/><rect x="1387.60" y="822.18" width="11.86" height="7.02"/><rect x="1399.46" y="818.11" width="11.86" height="11.09"/><rect x="1411.32" y="821.07" width="11.86" height="8.13"/><rect x="1423.18" y="821.07" width="11.86" height="8.13"/><rect x="1435.04" y="824.76" width="11.86" height="4.44"/><rect x="1446.90" y="821.44" width="11.86" height="7.76"/><rect x="1458.76" y="825.50" width="11.86" height="3.70"/><rect x="1470.62" y="821.44" width="11.86" height="7.76"/><rect x="1482.48" y="824.03" width="11.86" height="5.17"/><rect x="1494.34" y="824.03" width="11.86" height="5.17"/><rect x="1506.20" y="824.76" width="11.86" height="4.44"/><rect x="1518.06" y="822.92" width="11.86" height="6.28"/><rect x="1529.92" y="825.50" width="11.86" height="3.70"/><rect x="1541.78" y="826.24" width="11.86" height="2.96"/><rect x="1553.64" y="823.29" width="11.86" height="5.91"/><rect x="1565.50" y="826.24" width="11.86" height="2.96"/><rect x="1577.36" y="823.29" width="11.86" height="5.91"/><rect x="1589.22" y="826.24" width="11.86" height="2.96"/><rect x="1601.08" y="826.61" width="11.86" height="2.59"/><rect x="1612.94" y="826.61" width="11.86" height="2.59"/><rect x="1624.80" y="821.07" width="11.86" height="8.13"/><rect x="1636.66" y="826.61" width="11.86" height="2.59"/><rect x="1648.52" y="823.29" width="11.86" height="5.91"/><rect x="1660.38" y="826.98" width="11.86" height="2.22"/><rect x="1672.24" y="826.24" width="11.86" height="2.96"/><rect x="1684.10" y="826.24" width="11.86" height="2.96"/><rect x="1695.96" y="827.35" width="11.86" height="1.85"/><rect x="1707.82" y="827.35" width="11.86" height="1.85"/><rect x="1719.68" y="822.18" width="11.86" height="7.02"/><rect x="1731.54" y="827.35" width="11.86" height="1.85"/><rect x="1743.40" y="827.72" width="11.86" height="1.48"/><rect x="1755.26" y="828.09" width="11.86" height="1.11"/><rect x="1767.12" y="828.09" width="11.86" height="1.11"/><rect x="1778.98" y="826.98" width="11.86" height="2.22"/><rect x="1790.84" y="828.46" width="11.86" height="0.74"/><rect x="1802.70" y="828.83" width="11.86" height="0.37"/><rect x="1814.56" y="828.83" width="11.86" height="0.37"/><rect x="1826.42" y="828.83" width="11.86" height="0.37"/><rect x="1838.28" y="828.83" width="11.86" height="0.37"/><rect x="1850.14" y="828.83" width="11.86" height="0.37"/><rect x="1862.00" y="828.83" width="11.86" height="0.37"/><rect x="1873.86" y="828.83" width="11.86" height="0.37"/><rect x="1885.72" y="828.83" width="11.86" height="0.37"/><rect x="1897.58" y="828.83" width="11.86" height="0.37"/><rect x="1909.44" y="828.83" width="11.86" height="0.37"/><rect x="1921.30" y="828.83" width="11.86" height="0.37"/><rect x="1933.16" y="828.83" width="11.86" height="0.37"/><rect x="1945.02" y="828.09" width="11.86" height="1.11"/></g><path d="M1150.4 732.7 L1150.8 732.1 L1151.3 731.3 L1151.8 730.3 L1152.5 729.2 L1153.2 728.1 L1153.9 726.9 L1154.7 725.8 L1155.4 724.7 L1156.2 723.8 L1157.0 723.0 L1157.8 722.3 L1158.6 721.7 L1159.4 721.1 L1160.3 720.5 L1161.2 720.0 L1162.1 719.6 L1163.0 719.3 L1163.9 719.1 L1164.8 719.0 L1165.7 719.0 L1166.6 719.1 L1167.4 719.4 L1168.3 719.8 L1169.1 720.4 L1170.0 720.9 L1170.9 721.6 L1171.8 722.3 L1172.7 723.0 L1173.7 723.8 L1174.7 724.5 L1175.8 725.2 L1176.9 726.0 L1178.1 726.8 L1179.4 727.6 L1180.6 728.5 L1181.9 729.3 L1183.1 730.3 L1184.4 731.3 L1185.6 732.3 L1186.7 733.4 L1187.8 734.6 L1188.9 735.9 L1189.9 737.3 L1191.0 738.7 L1192.0 740.1 L1193.0 741.6 L1194.0 743.0 L1195.0 744.4 L1196.1 745.7 L1197.1 746.9 L1198.1 748.0 L1199.2 749.1 L1200.2 750.1 L1201.2 751.1 L1202.3 752.0 L1203.3 752.9 L1204.3 753.7 L1205.4 754.5 L1206.5 755.2 L1207.6 755.9 L1208.7 756.5 L1209.9 757.1 L1211.1 757.6 L1212.3 758.0 L1213.5 758.5 L1214.7 758.8 L1215.9 759.1 L1217.1 759.3 L1218.3 759.5 L1219.5 759.6 L1220.7 759.6 L1221.9 759.5 L1223.0 759.4 L1224.2 759.1 L1225.4 758.9 L1226.6 758.6 L1227.8 758.3 L1229.0 757.9 L1230.2 757.7 L1231.5 757.4 L1232.8 757.1 L1234.1 756.8 L1235.5 756.5 L1236.8 756.1 L1238.2 755.8 L1239.6 755.5 L1240.9 755.2 L1242.3 755.1 L1243.6 755.0 L1244.9 755.1 L1246.2 755.3 L1247.4 755.6 L1248.6 755.9 L1249.8 756.3 L1251.0 756.8 L1252.2 757.4 L1253.4 758.0 L1254.5 758.7 L1255.7 759.5 L1256.9 760.3 L1258.1 761.2 L1259.3 762.3 L1260.5 763.4 L1261.7 764.6 L1262.9 765.9 L1264.0 767.2 L1265.2 768.5 L1266.4 769.8 L1267.6 771.1 L1268.8 772.3 L1270.0 773.5 L1271.2 774.7 L1272.4 775.8 L1273.6 777.0 L1274.8 778.2 L1276.0 779.3 L1277.2 780.5 L1278.4 781.7 L1279.6 782.9 L1280.8 784.2 L1282.0 785.5 L1283.2 786.9 L1284.4 788.3 L1285.6 789.8 L1286.8 791.2 L1288.0 792.7 L1289.2 794.0 L1290.4 795.4 L1291.6 796.6 L1292.7 797.7 L1293.8 798.7 L1294.8 799.6 L1295.9 800.5 L1296.9 801.3 L1297.9 802.1 L1298.9 802.8 L1299.9 803.4 L1300.9 804.0 L1302.0 804.6 L1303.2 805.2 L1304.4 805.7 L1305.7 806.2 L1307.0 806.6 L1308.3 807.0 L1309.6 807.4 L1311.0 807.7 L1312.4 808.0 L1313.8 808.3 L1315.2 808.6 L1316.6 808.9 L1318.0 809.2 L1319.4 809.4 L1320.7 809.6 L1322.1 809.8 L1323.5 809.9 L1325.0 810.1 L1326.5 810.3 L1328.1 810.5 L1329.8 810.8 L1331.6 811.1 L1333.5 811.5 L1335.6 811.9 L1337.8 812.4 L1340.0 812.9 L1342.3 813.4 L1344.7 813.9 L1347.0 814.4 L1349.4 814.9 L1351.7 815.3 L1354.0 815.6 L1356.2 815.9 L1358.5 816.1 L1360.7 816.2 L1363.0 816.3 L1365.2 816.4 L1367.4 816.5 L1369.7 816.6 L1371.9 816.7 L1374.2 816.9 L1376.4 817.1 L1378.5 817.4 L1380.4 817.7 L1382.2 818.0 L1384.0 818.4 L1385.8 818.8 L1387.8 819.2 L1390.0 819.6 L1392.5 819.9 L1395.4 820.3 L1398.8 820.6 L1402.8 820.9 L1407.2 821.2 L1412.1 821.5 L1417.3 821.7 L1422.7 822.0 L1428.2 822.2 L1433.8 822.4 L1439.4 822.6 L1444.8 822.8 L1450.0 823.0 L1455.0 823.1 L1460.1 823.3 L1465.1 823.4 L1470.1 823.4 L1475.1 823.5 L1480.1 823.6 L1485.0 823.6 L1490.0 823.7 L1495.0 823.7 L1500.0 823.8 L1505.0 823.9 L1510.0 823.9 L1515.0 824.0 L1520.0 824.1 L1525.0 824.1 L1530.0 824.2 L1535.0 824.2 L1540.0 824.3 L1545.0 824.3 L1550.0 824.4 L1555.0 824.4 L1560.0 824.5 L1565.0 824.5 L1570.0 824.6 L1575.0 824.6 L1580.0 824.7 L1585.0 824.7 L1590.0 824.7 L1595.0 824.8 L1600.0 824.8 L1605.0 824.8 L1610.0 824.9 L1615.0 824.9 L1620.0 824.9 L1625.0 824.9 L1630.0 824.9 L1635.0 825.0 L1640.0 825.0 L1645.0 825.0 L1650.0 825.0 L1655.0 825.0 L1660.2 825.0 L1665.3 825.0 L1670.5 825.0 L1675.6 825.0 L1680.7 825.0 L1685.7 825.0 L1690.6 825.0 L1695.4 825.0 L1700.0 825.0 L1704.4 825.0 L1708.6 825.0 L1712.7 824.9 L1716.7 824.9 L1720.6 824.9 L1724.5 824.8 L1728.3 824.8 L1732.2 824.8 L1736.0 824.8 L1740.0 824.8 L1744.0 824.8 L1747.8 824.9 L1751.7 824.9 L1755.5 825.0 L1759.4 825.0 L1763.3 825.1 L1767.3 825.2 L1771.4 825.2 L1775.6 825.3 L1780.0 825.4 L1784.6 825.5 L1789.4 825.6 L1794.3 825.7 L1799.3 825.8 L1804.4 825.9 L1809.5 826.0 L1814.7 826.1 L1819.8 826.2 L1825.0 826.3 L1830.0 826.4 L1834.9 826.5 L1839.6 826.6 L1844.1 826.7 L1848.7 826.7 L1853.2 826.8 L1858.0 826.9 L1862.9 827.0 L1868.2 827.1 L1873.9 827.1 L1880.0 827.2 L1887.0 827.3 L1895.1 827.3 L1903.8 827.4 L1912.9 827.5 L1922.1 827.6 L1931.1 827.6 L1939.5 827.7 L1946.9 827.7 L1953.2 827.8 L1958.0 827.8" fill="none" stroke="#2b74ad" stroke-width="1.80" stroke-linejoin="round"/><g><text transform="translate(1100.30 837.60)" text-anchor="end">0</text><text transform="translate(1100.30 763.68)" text-anchor="end">200</text><text transform="translate(1100.30 689.76)" text-anchor="end">400</text><text transform="translate(1100.30 615.84)" text-anchor="end">600</text><text transform="translate(1100.30 541.92)" text-anchor="end">800</text><text transform="translate(1130.73 843.70) rotate(-90)" text-anchor="end">−1</text><text transform="translate(1256.90 843.70) rotate(-90)" text-anchor="end">0</text><text transform="translate(1383.07 843.70) rotate(-90)" text-anchor="end">1</text><text transform="translate(1509.24 843.70) rotate(-90)" text-anchor="end">2</text><text transform="translate(1635.41 843.70) rotate(-90)" text-anchor="end">3</text><text transform="translate(1761.58 843.70) rotate(-90)" text-anchor="end">4</text><text transform="translate(1887.75 843.70) rotate(-90)" text-anchor="end">5</text></g><text transform="translate(1554.40 478.70) scale(1.0300 1.0000)" text-anchor="middle">Histogram of e_tbhiv_prct</text><text transform="translate(1555.90 899.40) scale(1.0250 1.0000)" text-anchor="middle">e_tbhiv_prct</text><text transform="translate(1039.00 663.10) rotate(-90)" text-anchor="middle">Frequency</text><rect x="100.50" y="943.10" width="891.00" height="341.30" fill="none" stroke="#888888" stroke-width="2.4"/><g stroke="#888888" stroke-width="2.2"><line x1="94.50" y1="1284.40" x2="100.50" y2="1284.40"/><line x1="94.50" y1="1209.97" x2="100.50" y2="1209.97"/><line x1="94.50" y1="1135.54" x2="100.50" y2="1135.54"/><line x1="94.50" y1="1061.11" x2="100.50" y2="1061.11"/><line x1="94.50" y1="986.68" x2="100.50" y2="986.68"/><line x1="165.90" y1="1284.40" x2="165.90" y2="1290.40"/><line x1="272.70" y1="1284.40" x2="272.70" y2="1290.40"/><line x1="379.50" y1="1284.40" x2="379.50" y2="1290.40"/><line x1="486.30" y1="1284.40" x2="486.30" y2="1290.40"/><line x1="593.10" y1="1284.40" x2="593.10" y2="1290.40"/><line x1="699.90" y1="1284.40" x2="699.90" y2="1290.40"/><line x1="806.70" y1="1284.40" x2="806.70" y2="1290.40"/><line x1="913.50" y1="1284.40" x2="913.50" y2="1290.40"/></g><g fill="#8fbbdc" stroke="#0b131b" stroke-width="2.40"><rect x="140.20" y="1243.46" width="14.45" height="40.94"/><rect x="154.65" y="1214.44" width="14.45" height="69.96"/><rect x="169.10" y="1114.70" width="14.45" height="169.70"/><rect x="183.55" y="994.12" width="14.45" height="290.28"/><rect x="198.00" y="1012.73" width="14.45" height="271.67"/><rect x="212.45" y="959.14" width="14.45" height="325.26"/><rect x="226.90" y="979.98" width="14.45" height="304.42"/><rect x="241.35" y="1126.61" width="14.45" height="157.79"/><rect x="255.80" y="1159.36" width="14.45" height="125.04"/><rect x="270.25" y="1164.57" width="14.45" height="119.83"/><rect x="284.70" y="1187.64" width="14.45" height="96.76"/><rect x="299.15" y="1206.99" width="14.45" height="77.41"/><rect x="313.60" y="1195.83" width="14.45" height="88.57"/><rect x="328.05" y="1226.34" width="14.45" height="58.06"/><rect x="342.50" y="1206.99" width="14.45" height="77.41"/><rect x="356.95" y="1199.55" width="14.45" height="84.85"/><rect x="371.40" y="1226.34" width="14.45" height="58.06"/><rect x="385.85" y="1240.49" width="14.45" height="43.91"/><rect x="400.30" y="1268.77" width="14.45" height="15.63"/><rect x="414.75" y="1249.42" width="14.45" height="34.98"/><rect x="429.20" y="1257.61" width="14.45" height="26.79"/><rect x="443.65" y="1252.40" width="14.45" height="32.00"/><rect x="458.10" y="1242.72" width="14.45" height="41.68"/><rect x="472.55" y="1274.72" width="14.45" height="9.68"/><rect x="487.00" y="1266.54" width="14.45" height="17.86"/><rect x="501.45" y="1259.84" width="14.45" height="24.56"/><rect x="515.90" y="1268.77" width="14.45" height="15.63"/><rect x="530.35" y="1276.96" width="14.45" height="7.44"/><rect x="544.80" y="1281.42" width="14.45" height="2.98"/><rect x="559.25" y="1275.47" width="14.45" height="8.93"/><rect x="573.70" y="1273.98" width="14.45" height="10.42"/><rect x="588.15" y="1278.45" width="14.45" height="5.95"/><rect x="602.60" y="1282.17" width="14.45" height="2.23"/><rect x="617.05" y="1282.91" width="14.45" height="1.49"/><rect x="631.50" y="1283.66" width="14.45" height="0.74"/><rect x="645.95" y="1283.66" width="14.45" height="0.74"/><rect x="660.40" y="1284.03" width="14.45" height="0.37"/><rect x="674.85" y="1283.66" width="14.45" height="0.74"/><rect x="689.30" y="1282.91" width="14.45" height="1.49"/><rect x="703.75" y="1284.03" width="14.45" height="0.37"/><rect x="718.20" y="1284.03" width="14.45" height="0.37"/><rect x="732.65" y="1284.03" width="14.45" height="0.37"/><rect x="747.10" y="1282.91" width="14.45" height="1.49"/><rect x="761.55" y="1284.03" width="14.45" height="0.37"/><rect x="776.00" y="1284.03" width="14.45" height="0.37"/><rect x="790.45" y="1284.03" width="14.45" height="0.37"/><rect x="804.90" y="1284.03" width="14.45" height="0.37"/><rect x="819.35" y="1282.17" width="14.45" height="2.23"/><rect x="833.80" y="1282.91" width="14.45" height="1.49"/><rect x="848.25" y="1284.03" width="14.45" height="0.37"/><rect x="862.70" y="1284.03" width="14.45" height="0.37"/><rect x="877.15" y="1284.03" width="14.45" height="0.37"/><rect x="891.60" y="1284.03" width="14.45" height="0.37"/><rect x="906.05" y="1284.03" width="14.45" height="0.37"/><rect x="920.50" y="1283.66" width="14.45" height="0.74"/><rect x="934.95" y="1272.49" width="14.45" height="11.91"/></g><path d="M140.2 1242.5 L141.1 1240.8 L142.2 1238.7 L143.5 1236.3 L145.0 1233.5 L146.7 1230.5 L148.4 1227.2 L150.1 1223.7 L151.8 1220.0 L153.4 1216.1 L155.0 1212.0 L156.5 1207.8 L158.0 1203.5 L159.5 1199.1 L161.1 1194.4 L162.6 1189.5 L164.1 1184.4 L165.6 1178.8 L167.1 1173.0 L168.6 1166.7 L170.0 1160.0 L171.4 1152.4 L172.9 1143.9 L174.4 1134.5 L175.8 1124.8 L177.3 1114.8 L178.6 1105.0 L180.0 1095.7 L181.2 1087.0 L182.4 1079.4 L183.4 1073.0 L184.3 1068.0 L185.1 1064.0 L185.7 1060.8 L186.3 1058.3 L186.8 1056.4 L187.3 1054.7 L187.8 1053.2 L188.3 1051.6 L188.8 1049.8 L189.4 1047.6 L190.0 1045.1 L190.7 1042.6 L191.4 1040.1 L192.1 1037.6 L192.8 1035.1 L193.5 1032.7 L194.1 1030.3 L194.7 1028.0 L195.3 1025.8 L195.8 1023.8 L196.2 1021.9 L196.6 1020.0 L196.9 1018.3 L197.2 1016.6 L197.4 1015.0 L197.7 1013.4 L197.9 1012.0 L198.2 1010.6 L198.6 1009.3 L199.0 1008.0 L199.5 1006.8 L200.0 1005.7 L200.6 1004.6 L201.2 1003.6 L201.8 1002.7 L202.4 1001.8 L203.0 1001.0 L203.7 1000.3 L204.3 999.6 L205.0 999.0 L205.7 998.5 L206.3 998.0 L207.0 997.6 L207.7 997.3 L208.4 997.0 L209.2 996.8 L209.9 996.6 L210.6 996.5 L211.3 996.5 L212.0 996.5 L212.7 996.5 L213.4 996.5 L214.1 996.6 L214.8 996.7 L215.5 996.8 L216.2 997.1 L216.9 997.4 L217.6 998.0 L218.3 998.6 L219.0 999.5 L219.7 1000.6 L220.4 1001.9 L221.1 1003.4 L221.7 1005.1 L222.4 1006.8 L223.1 1008.7 L223.8 1010.5 L224.4 1012.4 L225.1 1014.1 L225.7 1015.8 L226.3 1017.4 L226.9 1018.9 L227.5 1020.3 L228.1 1021.8 L228.6 1023.3 L229.2 1024.8 L229.8 1026.4 L230.3 1028.0 L231.0 1029.8 L231.6 1031.7 L232.2 1033.7 L232.9 1035.7 L233.5 1037.7 L234.2 1039.8 L234.9 1042.0 L235.6 1044.3 L236.3 1046.8 L237.1 1049.5 L237.9 1052.4 L238.8 1055.6 L239.7 1059.1 L240.7 1062.9 L241.7 1067.0 L242.8 1071.3 L243.9 1075.8 L245.1 1080.3 L246.2 1084.9 L247.5 1089.4 L248.7 1093.8 L250.0 1098.0 L251.3 1102.2 L252.8 1106.4 L254.2 1110.6 L255.7 1114.8 L257.3 1119.0 L258.8 1123.1 L260.4 1127.0 L261.9 1130.9 L263.5 1134.5 L265.0 1138.0 L266.5 1141.2 L267.9 1144.3 L269.3 1147.1 L270.8 1149.8 L272.2 1152.4 L273.6 1155.0 L275.1 1157.5 L276.7 1159.9 L278.3 1162.4 L280.0 1165.0 L281.8 1167.6 L283.6 1170.3 L285.5 1173.0 L287.4 1175.7 L289.4 1178.4 L291.4 1181.0 L293.5 1183.4 L295.6 1185.8 L297.8 1188.0 L300.0 1190.0 L302.3 1191.8 L304.7 1193.5 L307.1 1195.0 L309.6 1196.4 L312.2 1197.8 L314.8 1199.0 L317.3 1200.1 L319.9 1201.1 L322.5 1202.1 L325.0 1203.0 L327.5 1203.8 L330.0 1204.4 L332.6 1204.8 L335.1 1205.1 L337.7 1205.4 L340.2 1205.7 L342.7 1206.1 L345.2 1206.6 L347.6 1207.2 L350.0 1208.0 L352.4 1209.0 L354.7 1210.2 L357.0 1211.5 L359.4 1213.0 L361.6 1214.4 L363.8 1216.0 L366.0 1217.5 L368.1 1219.1 L370.1 1220.6 L372.0 1222.0 L373.8 1223.4 L375.5 1224.9 L377.1 1226.4 L378.6 1227.9 L380.1 1229.4 L381.5 1230.8 L382.9 1232.2 L384.2 1233.6 L385.6 1234.8 L387.0 1236.0 L388.4 1237.1 L389.7 1238.0 L391.0 1238.9 L392.3 1239.7 L393.6 1240.5 L394.8 1241.2 L396.1 1241.9 L397.4 1242.6 L398.7 1243.3 L400.0 1244.0 L401.4 1244.7 L402.7 1245.4 L404.1 1246.0 L405.5 1246.7 L406.9 1247.3 L408.4 1247.9 L409.8 1248.5 L411.2 1249.0 L412.6 1249.5 L414.0 1250.0 L415.4 1250.4 L416.7 1250.8 L417.9 1251.1 L419.2 1251.4 L420.5 1251.7 L421.8 1251.9 L423.2 1252.2 L424.7 1252.4 L426.3 1252.7 L428.0 1253.0 L429.9 1253.3 L431.8 1253.5 L433.9 1253.7 L436.1 1254.0 L438.3 1254.2 L440.6 1254.4 L442.9 1254.7 L445.3 1255.1 L447.6 1255.5 L450.0 1256.0 L452.4 1256.6 L454.8 1257.3 L457.3 1258.0 L459.8 1258.8 L462.3 1259.7 L464.9 1260.6 L467.4 1261.4 L470.0 1262.3 L472.5 1263.2 L475.0 1264.0 L477.4 1264.8 L479.6 1265.6 L481.7 1266.4 L483.8 1267.3 L485.9 1268.1 L488.2 1268.9 L490.7 1269.7 L493.4 1270.5 L496.5 1271.3 L500.0 1272.0 L504.0 1272.7 L508.4 1273.5 L513.2 1274.2 L518.2 1274.9 L523.4 1275.6 L528.8 1276.2 L534.2 1276.9 L539.6 1277.4 L544.9 1278.0 L550.0 1278.5 L555.0 1278.9 L560.0 1279.3 L565.0 1279.7 L570.0 1280.0 L575.0 1280.3 L580.0 1280.5 L585.0 1280.8 L590.0 1281.0 L595.0 1281.3 L600.0 1281.5 L604.5 1281.7 L608.4 1282.0 L611.9 1282.2 L615.2 1282.4 L618.8 1282.7 L622.8 1282.9 L627.6 1283.0 L633.6 1283.2 L641.0 1283.4 L650.0 1283.5 L661.2 1283.6 L674.6 1283.7 L689.5 1283.8 L705.7 1283.8 L722.5 1283.9 L739.5 1283.9 L756.3 1283.9 L772.2 1284.0 L787.0 1284.0 L800.0 1284.0 L811.7 1284.0 L822.9 1284.0 L833.5 1284.0 L843.4 1284.0 L852.8 1284.0 L861.6 1283.9 L869.7 1283.9 L877.1 1283.9 L883.9 1283.8 L890.0 1283.8 L895.2 1283.8 L899.2 1283.7 L902.4 1283.7 L904.9 1283.6 L906.8 1283.6 L908.4 1283.5 L909.8 1283.5 L911.3 1283.4 L913.0 1283.3 L915.0 1283.2 L917.4 1283.1 L919.8 1282.9 L922.3 1282.7 L924.7 1282.6 L927.1 1282.4 L929.3 1282.2 L931.4 1282.0 L933.2 1281.8 L934.8 1281.7 L936.0 1281.6" fill="none" stroke="#2b74ad" stroke-width="1.80" stroke-linejoin="round"/><g><text transform="translate(89.00 1292.80)" text-anchor="end">0</text><text transform="translate(89.00 1218.37)" text-anchor="end">100</text><text transform="translate(89.00 1143.94)" text-anchor="end">200</text><text transform="translate(89.00 1069.51)" text-anchor="end">300</text><text transform="translate(89.00 995.08)" text-anchor="end">400</text><text transform="translate(172.70 1298.90) rotate(-90)" text-anchor="end">−1</text><text transform="translate(279.50 1298.90) rotate(-90)" text-anchor="end">0</text><text transform="translate(386.30 1298.90) rotate(-90)" text-anchor="end">1</text><text transform="translate(493.10 1298.90) rotate(-90)" text-anchor="end">2</text><text transform="translate(599.90 1298.90) rotate(-90)" text-anchor="end">3</text><text transform="translate(706.70 1298.90) rotate(-90)" text-anchor="end">4</text><text transform="translate(813.50 1298.90) rotate(-90)" text-anchor="end">5</text><text transform="translate(920.30 1298.90) rotate(-90)" text-anchor="end">6</text></g><text transform="translate(545.00 934.00) scale(1.0350 1.0000)" text-anchor="middle">Histogram of cfr</text><text transform="translate(546.00 1355.30)" text-anchor="middle">cfr</text><text transform="translate(27.50 1117.40) rotate(-90)" text-anchor="middle">Frequency</text><rect x="1111.80" y="945.00" width="887.20" height="354.80" fill="none" stroke="#888888" stroke-width="2.4"/><g stroke="#888888" stroke-width="2.2"><line x1="1105.80" y1="1299.80" x2="1111.80" y2="1299.80"/><line x1="1105.80" y1="1224.10" x2="1111.80" y2="1224.10"/><line x1="1105.80" y1="1148.40" x2="1111.80" y2="1148.40"/><line x1="1105.80" y1="1072.70" x2="1111.80" y2="1072.70"/><line x1="1105.80" y1="997.00" x2="1111.80" y2="997.00"/><line x1="1215.50" y1="1299.80" x2="1215.50" y2="1305.80"/><line x1="1396.20" y1="1299.80" x2="1396.20" y2="1305.80"/><line x1="1576.90" y1="1299.80" x2="1576.90" y2="1305.80"/><line x1="1757.60" y1="1299.80" x2="1757.60" y2="1305.80"/><line x1="1938.30" y1="1299.80" x2="1938.30" y2="1305.80"/></g><g fill="#8fbbdc" stroke="#0b131b" stroke-width="2.40"><rect x="1151.20" y="960.98" width="8.90" height="338.82"/><rect x="1160.10" y="1140.43" width="8.90" height="159.37"/><rect x="1169.00" y="1191.87" width="8.90" height="107.93"/><rect x="1177.90" y="1191.49" width="8.90" height="108.31"/><rect x="1186.80" y="1224.25" width="8.90" height="75.55"/><rect x="1195.70" y="1236.44" width="8.90" height="63.36"/><rect x="1204.60" y="1246.35" width="8.90" height="53.45"/><rect x="1213.50" y="1197.96" width="8.90" height="101.84"/><rect x="1222.40" y="1258.54" width="8.90" height="41.26"/><rect x="1231.30" y="1258.92" width="8.90" height="40.88"/><rect x="1240.20" y="1264.64" width="8.90" height="35.16"/><rect x="1249.10" y="1263.49" width="8.90" height="36.31"/><rect x="1258.00" y="1273.40" width="8.90" height="26.40"/><rect x="1266.90" y="1279.50" width="8.90" height="20.30"/><rect x="1275.80" y="1284.45" width="8.90" height="15.35"/><rect x="1284.70" y="1281.78" width="8.90" height="18.02"/><rect x="1293.60" y="1284.45" width="8.90" height="15.35"/><rect x="1302.50" y="1290.54" width="8.90" height="9.26"/><rect x="1311.40" y="1289.78" width="8.90" height="10.02"/><rect x="1320.30" y="1289.40" width="8.90" height="10.40"/><rect x="1329.20" y="1292.07" width="8.90" height="7.73"/><rect x="1338.10" y="1293.97" width="8.90" height="5.83"/><rect x="1347.00" y="1295.88" width="8.90" height="3.92"/><rect x="1355.90" y="1295.50" width="8.90" height="4.30"/><rect x="1364.80" y="1295.88" width="8.90" height="3.92"/><rect x="1373.70" y="1291.69" width="8.90" height="8.11"/><rect x="1382.60" y="1293.97" width="8.90" height="5.83"/><rect x="1391.50" y="1294.74" width="8.90" height="5.06"/><rect x="1400.40" y="1294.74" width="8.90" height="5.06"/><rect x="1409.30" y="1293.97" width="8.90" height="5.83"/><rect x="1418.20" y="1293.21" width="8.90" height="6.59"/><rect x="1427.10" y="1296.26" width="8.90" height="3.54"/><rect x="1436.00" y="1296.26" width="8.90" height="3.54"/><rect x="1444.90" y="1296.26" width="8.90" height="3.54"/><rect x="1453.80" y="1296.26" width="8.90" height="3.54"/><rect x="1462.70" y="1296.26" width="8.90" height="3.54"/><rect x="1471.60" y="1298.16" width="8.90" height="1.64"/><rect x="1480.50" y="1298.55" width="8.90" height="1.25"/><rect x="1489.40" y="1298.55" width="8.90" height="1.25"/><rect x="1498.30" y="1298.74" width="8.90" height="1.06"/><rect x="1507.20" y="1298.74" width="8.90" height="1.06"/><rect x="1516.10" y="1298.93" width="8.90" height="0.87"/><rect x="1525.00" y="1298.93" width="8.90" height="0.87"/><rect x="1533.90" y="1298.93" width="8.90" height="0.87"/><rect x="1542.80" y="1298.93" width="8.90" height="0.87"/><rect x="1551.70" y="1298.55" width="8.90" height="1.25"/><rect x="1560.60" y="1298.55" width="8.90" height="1.25"/><rect x="1569.50" y="1299.61" width="8.90" height="0.19"/><rect x="1578.40" y="1298.16" width="8.90" height="1.64"/><rect x="1587.30" y="1299.61" width="8.90" height="0.19"/><rect x="1596.20" y="1299.61" width="8.90" height="0.19"/><rect x="1605.10" y="1299.61" width="8.90" height="0.19"/><rect x="1614.00" y="1299.61" width="8.90" height="0.19"/><rect x="1622.90" y="1297.02" width="8.90" height="2.78"/><rect x="1631.80" y="1299.61" width="8.90" height="0.19"/><rect x="1640.70" y="1299.61" width="8.90" height="0.19"/><rect x="1649.60" y="1298.16" width="8.90" height="1.64"/><rect x="1658.50" y="1299.61" width="8.90" height="0.19"/><rect x="1667.40" y="1299.61" width="8.90" height="0.19"/><rect x="1676.30" y="1299.61" width="8.90" height="0.19"/><rect x="1685.20" y="1299.61" width="8.90" height="0.19"/><rect x="1694.10" y="1299.61" width="8.90" height="0.19"/><rect x="1703.00" y="1299.61" width="8.90" height="0.19"/><rect x="1711.90" y="1299.61" width="8.90" height="0.19"/><rect x="1720.80" y="1299.61" width="8.90" height="0.19"/><rect x="1729.70" y="1299.61" width="8.90" height="0.19"/><rect x="1738.60" y="1297.78" width="8.90" height="2.02"/><rect x="1747.50" y="1299.61" width="8.90" height="0.19"/><rect x="1756.40" y="1299.61" width="8.90" height="0.19"/><rect x="1765.30" y="1299.61" width="8.90" height="0.19"/><rect x="1774.20" y="1299.61" width="8.90" height="0.19"/><rect x="1783.10" y="1299.61" width="8.90" height="0.19"/><rect x="1792.00" y="1297.78" width="8.90" height="2.02"/><rect x="1800.90" y="1299.61" width="8.90" height="0.19"/><rect x="1809.80" y="1299.61" width="8.90" height="0.19"/><rect x="1818.70" y="1299.61" width="8.90" height="0.19"/><rect x="1827.60" y="1299.61" width="8.90" height="0.19"/><rect x="1836.50" y="1299.61" width="8.90" height="0.19"/><rect x="1845.40" y="1299.61" width="8.90" height="0.19"/><rect x="1854.30" y="1299.61" width="8.90" height="0.19"/><rect x="1863.20" y="1299.61" width="8.90" height="0.19"/><rect x="1872.10" y="1299.61" width="8.90" height="0.19"/><rect x="1881.00" y="1299.61" width="8.90" height="0.19"/><rect x="1889.90" y="1299.61" width="8.90" height="0.19"/><rect x="1898.80" y="1299.61" width="8.90" height="0.19"/><rect x="1907.70" y="1299.61" width="8.90" height="0.19"/><rect x="1916.60" y="1299.61" width="8.90" height="0.19"/><rect x="1925.50" y="1299.61" width="8.90" height="0.19"/><rect x="1934.40" y="1299.61" width="8.90" height="0.19"/><rect x="1943.30" y="1299.61" width="8.90" height="0.19"/><rect x="1952.20" y="1299.61" width="8.90" height="0.19"/></g><path d="M1150.5 1192.8 L1150.9 1191.7 L1151.4 1190.2 L1152.0 1188.4 L1152.6 1186.4 L1153.3 1184.3 L1154.1 1182.2 L1154.8 1180.1 L1155.6 1178.1 L1156.3 1176.4 L1157.0 1175.0 L1157.7 1173.8 L1158.4 1172.8 L1159.1 1171.8 L1159.8 1171.0 L1160.5 1170.3 L1161.2 1169.7 L1161.9 1169.2 L1162.6 1168.7 L1163.2 1168.4 L1163.9 1168.1 L1164.5 1167.9 L1165.1 1167.7 L1165.6 1167.5 L1166.1 1167.5 L1166.6 1167.5 L1167.1 1167.7 L1167.7 1168.1 L1168.3 1168.6 L1169.1 1169.3 L1169.9 1170.3 L1170.9 1171.6 L1171.9 1173.1 L1173.1 1174.9 L1174.3 1176.9 L1175.6 1179.1 L1176.9 1181.3 L1178.1 1183.5 L1179.4 1185.7 L1180.6 1187.8 L1181.8 1189.8 L1182.9 1191.7 L1184.0 1193.5 L1185.0 1195.4 L1186.0 1197.2 L1187.0 1199.0 L1188.1 1200.8 L1189.1 1202.6 L1190.1 1204.3 L1191.2 1206.0 L1192.3 1207.7 L1193.4 1209.3 L1194.6 1210.9 L1195.8 1212.5 L1197.0 1214.1 L1198.3 1215.6 L1199.5 1217.1 L1200.7 1218.5 L1201.9 1219.9 L1203.1 1221.3 L1204.2 1222.6 L1205.3 1223.8 L1206.4 1225.0 L1207.5 1226.1 L1208.6 1227.1 L1209.6 1228.1 L1210.7 1229.1 L1211.7 1230.1 L1212.7 1231.1 L1213.7 1232.1 L1214.7 1233.1 L1215.6 1234.1 L1216.5 1235.2 L1217.4 1236.2 L1218.3 1237.2 L1219.1 1238.3 L1220.0 1239.3 L1220.8 1240.3 L1221.7 1241.4 L1222.7 1242.5 L1223.7 1243.6 L1224.8 1244.8 L1225.9 1246.0 L1227.1 1247.2 L1228.2 1248.5 L1229.5 1249.7 L1230.7 1251.0 L1231.9 1252.2 L1233.2 1253.4 L1234.4 1254.5 L1235.6 1255.5 L1236.8 1256.4 L1238.0 1257.3 L1239.2 1258.1 L1240.4 1258.8 L1241.6 1259.5 L1242.8 1260.2 L1244.0 1260.9 L1245.2 1261.6 L1246.4 1262.3 L1247.6 1263.0 L1248.8 1263.7 L1249.9 1264.5 L1251.1 1265.2 L1252.2 1266.0 L1253.4 1266.7 L1254.5 1267.4 L1255.7 1268.2 L1256.9 1268.9 L1258.2 1269.7 L1259.5 1270.4 L1260.9 1271.2 L1262.3 1271.9 L1263.8 1272.7 L1265.3 1273.5 L1266.8 1274.2 L1268.4 1275.0 L1269.9 1275.8 L1271.5 1276.5 L1273.0 1277.2 L1274.5 1277.9 L1276.0 1278.6 L1277.5 1279.2 L1279.0 1279.9 L1280.5 1280.5 L1282.0 1281.1 L1283.4 1281.7 L1284.9 1282.3 L1286.4 1282.8 L1287.9 1283.4 L1289.4 1283.9 L1290.8 1284.4 L1292.2 1284.9 L1293.4 1285.4 L1294.7 1285.8 L1296.0 1286.2 L1297.3 1286.7 L1298.8 1287.1 L1300.5 1287.5 L1302.3 1288.0 L1304.4 1288.4 L1306.8 1288.9 L1309.4 1289.3 L1312.2 1289.8 L1315.2 1290.3 L1318.4 1290.8 L1321.6 1291.3 L1324.8 1291.8 L1328.0 1292.2 L1331.1 1292.6 L1334.2 1292.9 L1337.2 1293.2 L1340.2 1293.4 L1343.2 1293.6 L1346.2 1293.8 L1349.1 1293.9 L1352.1 1294.0 L1355.1 1294.1 L1358.1 1294.2 L1361.1 1294.3 L1364.1 1294.4 L1367.1 1294.5 L1370.1 1294.5 L1373.1 1294.5 L1376.1 1294.5 L1379.0 1294.5 L1382.0 1294.5 L1385.0 1294.5 L1388.0 1294.5 L1391.0 1294.6 L1394.0 1294.6 L1396.9 1294.6 L1399.7 1294.7 L1402.5 1294.7 L1405.2 1294.8 L1407.9 1294.9 L1410.8 1294.9 L1413.7 1295.0 L1416.9 1295.1 L1420.3 1295.2 L1423.9 1295.3 L1427.7 1295.4 L1431.5 1295.6 L1435.5 1295.7 L1439.5 1295.9 L1443.8 1296.1 L1448.3 1296.3 L1453.2 1296.5 L1458.4 1296.6 L1463.9 1296.8 L1470.0 1297.0 L1475.2 1297.2 L1478.6 1297.4 L1481.2 1297.6 L1483.8 1297.8 L1487.4 1298.0 L1492.8 1298.2 L1500.8 1298.4 L1512.5 1298.5 L1528.6 1298.7 L1550.0 1298.8 L1579.3 1298.9 L1617.1 1299.0 L1661.1 1299.1 L1709.1 1299.1 L1758.9 1299.2 L1808.3 1299.2 L1855.1 1299.2 L1897.1 1299.3 L1932.1 1299.3 L1957.8 1299.3" fill="none" stroke="#2b74ad" stroke-width="1.80" stroke-linejoin="round"/><g><text transform="translate(1100.30 1308.20)" text-anchor="end">0</text><text transform="translate(1100.30 1232.50)" text-anchor="end">200</text><text transform="translate(1100.30 1156.80)" text-anchor="end">400</text><text transform="translate(1100.30 1081.10)" text-anchor="end">600</text><text transform="translate(1100.30 1005.40)" text-anchor="end">800</text><text transform="translate(1222.30 1314.30) rotate(-90)" text-anchor="end">0</text><text transform="translate(1403.00 1314.30) rotate(-90)" text-anchor="end">2</text><text transform="translate(1583.70 1314.30) rotate(-90)" text-anchor="end">4</text><text transform="translate(1764.40 1314.30) rotate(-90)" text-anchor="end">6</text><text transform="translate(1945.10 1314.30) rotate(-90)" text-anchor="end">8</text></g><text transform="translate(1552.90 934.30) scale(1.0270 1.0000)" text-anchor="middle">Histogram of c_newinc_100k</text><text transform="translate(1553.40 1352.40)" text-anchor="middle">c_newinc_100k</text><text transform="translate(1039.00 1126.50) rotate(-90)" text-anchor="middle">Frequency</text><rect x="118.30" y="1390.00" width="874.20" height="304.20" fill="none" stroke="#888888" stroke-width="2.4"/><g stroke="#888888" stroke-width="2.2"><line x1="112.30" y1="1694.20" x2="118.30" y2="1694.20"/><line x1="112.30" y1="1649.70" x2="118.30" y2="1649.70"/><line x1="112.30" y1="1605.20" x2="118.30" y2="1605.20"/><line x1="112.30" y1="1560.70" x2="118.30" y2="1560.70"/><line x1="112.30" y1="1516.20" x2="118.30" y2="1516.20"/><line x1="112.30" y1="1471.70" x2="118.30" y2="1471.70"/><line x1="112.30" y1="1427.20" x2="118.30" y2="1427.20"/><line x1="155.40" y1="1694.20" x2="155.40" y2="1699.52"/><line x1="278.20" y1="1694.20" x2="278.20" y2="1699.52"/><line x1="401.00" y1="1694.20" x2="401.00" y2="1699.52"/><line x1="523.80" y1="1694.20" x2="523.80" y2="1699.52"/><line x1="646.60" y1="1694.20" x2="646.60" y2="1699.52"/><line x1="769.40" y1="1694.20" x2="769.40" y2="1699.52"/><line x1="892.20" y1="1694.20" x2="892.20" y2="1699.52"/></g><g fill="#8fbbdc" stroke="#0b131b" stroke-width="2.40"><rect x="158.75" y="1689.08" width="10.55" height="5.12"/><rect x="169.30" y="1693.76" width="10.55" height="0.44"/><rect x="179.85" y="1693.53" width="10.55" height="0.67"/><rect x="190.40" y="1692.87" width="10.55" height="1.34"/><rect x="200.95" y="1693.09" width="10.55" height="1.11"/><rect x="211.50" y="1692.64" width="10.55" height="1.56"/><rect x="222.05" y="1691.98" width="10.55" height="2.22"/><rect x="232.60" y="1689.75" width="10.55" height="4.45"/><rect x="243.15" y="1685.75" width="10.55" height="8.45"/><rect x="253.70" y="1680.63" width="10.55" height="13.57"/><rect x="264.25" y="1680.63" width="10.55" height="13.57"/><rect x="274.80" y="1686.86" width="10.55" height="7.34"/><rect x="285.35" y="1681.74" width="10.55" height="12.46"/><rect x="295.90" y="1681.07" width="10.55" height="13.13"/><rect x="306.45" y="1674.17" width="10.55" height="20.03"/><rect x="317.00" y="1676.62" width="10.55" height="17.58"/><rect x="327.55" y="1671.95" width="10.55" height="22.25"/><rect x="338.10" y="1667.94" width="10.55" height="26.26"/><rect x="348.65" y="1665.28" width="10.55" height="28.92"/><rect x="359.20" y="1662.16" width="10.55" height="32.04"/><rect x="369.75" y="1674.17" width="10.55" height="20.03"/><rect x="380.30" y="1678.40" width="10.55" height="15.80"/><rect x="390.85" y="1631.46" width="10.55" height="62.74"/><rect x="401.40" y="1671.95" width="10.55" height="22.25"/><rect x="411.95" y="1584.51" width="10.55" height="109.69"/><rect x="422.50" y="1667.94" width="10.55" height="26.26"/><rect x="433.05" y="1675.96" width="10.55" height="18.24"/><rect x="443.60" y="1403.84" width="10.55" height="290.36"/><rect x="454.15" y="1680.63" width="10.55" height="13.57"/><rect x="464.70" y="1682.41" width="10.55" height="11.79"/><rect x="475.25" y="1690.42" width="10.55" height="3.78"/><rect x="485.80" y="1686.86" width="10.55" height="7.34"/><rect x="496.35" y="1692.64" width="10.55" height="1.56"/><rect x="506.90" y="1693.53" width="10.55" height="0.67"/><rect x="517.45" y="1690.42" width="10.55" height="3.78"/><rect x="528.00" y="1693.53" width="10.55" height="0.67"/><rect x="538.55" y="1693.76" width="10.55" height="0.44"/><rect x="549.10" y="1693.53" width="10.55" height="0.67"/><rect x="559.65" y="1693.98" width="10.55" height="0.22"/><rect x="570.20" y="1693.98" width="10.55" height="0.22"/><rect x="580.75" y="1693.53" width="10.55" height="0.67"/><rect x="591.30" y="1693.98" width="10.55" height="0.22"/><rect x="601.85" y="1693.98" width="10.55" height="0.22"/><rect x="612.40" y="1693.98" width="10.55" height="0.22"/><rect x="622.95" y="1693.98" width="10.55" height="0.22"/><rect x="633.50" y="1693.98" width="10.55" height="0.22"/><rect x="644.05" y="1693.98" width="10.55" height="0.22"/><rect x="654.60" y="1693.98" width="10.55" height="0.22"/><rect x="665.15" y="1693.98" width="10.55" height="0.22"/><rect x="675.70" y="1693.98" width="10.55" height="0.22"/><rect x="686.25" y="1693.98" width="10.55" height="0.22"/><rect x="696.80" y="1693.98" width="10.55" height="0.22"/><rect x="707.35" y="1693.98" width="10.55" height="0.22"/><rect x="717.90" y="1693.53" width="10.55" height="0.67"/><rect x="728.45" y="1693.98" width="10.55" height="0.22"/><rect x="739.00" y="1693.98" width="10.55" height="0.22"/><rect x="749.55" y="1693.98" width="10.55" height="0.22"/><rect x="760.10" y="1693.98" width="10.55" height="0.22"/><rect x="770.65" y="1693.98" width="10.55" height="0.22"/><rect x="781.20" y="1693.53" width="10.55" height="0.67"/><rect x="791.75" y="1693.98" width="10.55" height="0.22"/><rect x="802.30" y="1693.98" width="10.55" height="0.22"/><rect x="812.85" y="1693.98" width="10.55" height="0.22"/><rect x="823.40" y="1693.98" width="10.55" height="0.22"/><rect x="833.95" y="1693.98" width="10.55" height="0.22"/><rect x="844.50" y="1693.98" width="10.55" height="0.22"/><rect x="855.05" y="1693.98" width="10.55" height="0.22"/><rect x="865.60" y="1693.98" width="10.55" height="0.22"/><rect x="876.15" y="1693.98" width="10.55" height="0.22"/><rect x="886.70" y="1693.98" width="10.55" height="0.22"/><rect x="897.25" y="1693.98" width="10.55" height="0.22"/><rect x="907.80" y="1693.98" width="10.55" height="0.22"/><rect x="918.35" y="1693.98" width="10.55" height="0.22"/><rect x="928.90" y="1693.98" width="10.55" height="0.22"/><rect x="939.45" y="1693.53" width="10.55" height="0.67"/></g><path d="M158.8 1694.2 L160.7 1694.2 L163.2 1694.2 L166.1 1694.3 L169.5 1694.3 L173.0 1694.3 L176.8 1694.4 L180.6 1694.4 L184.4 1694.3 L188.1 1694.3 L191.6 1694.2 L195.0 1694.1 L198.6 1694.0 L202.2 1693.8 L205.8 1693.6 L209.4 1693.5 L213.0 1693.2 L216.5 1693.0 L219.8 1692.7 L223.0 1692.3 L226.0 1691.9 L228.8 1691.4 L231.3 1690.8 L233.7 1690.2 L236.0 1689.5 L238.2 1688.8 L240.3 1688.1 L242.4 1687.4 L244.5 1686.7 L246.7 1686.1 L248.9 1685.5 L251.2 1685.0 L253.5 1684.5 L255.8 1684.1 L258.1 1683.7 L260.4 1683.3 L262.6 1682.9 L264.9 1682.6 L267.2 1682.2 L269.5 1681.9 L271.8 1681.6 L274.1 1681.3 L276.4 1681.1 L278.7 1680.8 L281.0 1680.6 L283.2 1680.4 L285.5 1680.2 L287.8 1680.0 L290.1 1679.8 L292.4 1679.6 L294.7 1679.3 L297.0 1679.0 L299.3 1678.7 L301.6 1678.4 L303.9 1678.1 L306.1 1677.8 L308.4 1677.5 L310.7 1677.1 L313.0 1676.7 L315.3 1676.3 L317.6 1675.9 L319.9 1675.4 L322.3 1674.9 L324.6 1674.4 L327.0 1673.8 L329.3 1673.2 L331.7 1672.6 L334.0 1672.0 L336.2 1671.5 L338.4 1671.0 L340.5 1670.5 L342.6 1670.1 L344.6 1669.6 L346.6 1669.2 L348.5 1668.8 L350.4 1668.4 L352.3 1668.1 L354.0 1667.7 L355.7 1667.5 L357.4 1667.3 L358.9 1667.2 L360.3 1667.2 L361.7 1667.3 L362.9 1667.4 L364.1 1667.7 L365.2 1667.9 L366.2 1668.2 L367.3 1668.5 L368.3 1668.7 L369.3 1668.9 L370.3 1669.0 L371.3 1669.1 L372.2 1669.2 L373.2 1669.2 L374.0 1669.3 L374.9 1669.3 L375.8 1669.3 L376.6 1669.2 L377.6 1669.1 L378.5 1668.8 L379.5 1668.5 L380.6 1668.1 L381.6 1667.5 L382.8 1666.9 L383.9 1666.2 L385.1 1665.5 L386.2 1664.7 L387.4 1663.8 L388.6 1662.9 L389.7 1662.0 L390.9 1661.0 L392.0 1660.0 L393.1 1658.9 L394.1 1657.8 L395.2 1656.7 L396.2 1655.5 L397.3 1654.2 L398.4 1652.8 L399.7 1651.4 L401.0 1650.0 L402.4 1648.4 L404.0 1646.8 L405.7 1645.0 L407.6 1643.2 L409.6 1641.4 L411.5 1639.4 L413.5 1637.4 L415.5 1635.4 L417.4 1633.3 L419.1 1631.1 L420.7 1628.9 L422.1 1626.6 L423.4 1624.3 L424.7 1621.8 L425.8 1619.3 L426.9 1616.8 L427.9 1614.2 L429.0 1611.6 L430.0 1609.0 L431.1 1606.3 L432.2 1603.7 L433.4 1600.9 L434.6 1597.8 L435.8 1594.6 L437.0 1591.3 L438.2 1588.1 L439.4 1585.0 L440.5 1582.2 L441.6 1579.7 L442.6 1577.7 L443.6 1576.2 L444.5 1575.3 L445.3 1574.7 L446.0 1574.5 L446.7 1574.6 L447.3 1575.1 L448.0 1575.8 L448.6 1576.7 L449.2 1577.9 L449.8 1579.3 L450.5 1580.8 L451.2 1582.6 L451.8 1584.7 L452.5 1587.0 L453.1 1589.6 L453.8 1592.4 L454.5 1595.4 L455.2 1598.5 L455.9 1601.7 L456.6 1605.0 L457.4 1608.3 L458.2 1611.8 L459.1 1615.5 L460.0 1619.4 L460.9 1623.5 L461.9 1627.6 L462.8 1631.7 L463.8 1635.8 L464.7 1639.8 L465.7 1643.6 L466.6 1647.2 L467.5 1650.6 L468.4 1654.0 L469.3 1657.4 L470.2 1660.6 L471.1 1663.7 L472.1 1666.8 L473.0 1669.6 L473.9 1672.3 L474.8 1674.8 L475.7 1677.0 L476.6 1679.0 L477.4 1680.7 L478.2 1682.3 L479.0 1683.7 L479.9 1684.9 L480.7 1686.0 L481.6 1686.9 L482.6 1687.9 L483.7 1688.7 L484.9 1689.6 L484.3 1690.4 L480.7 1691.1 L475.5 1691.7 L470.0 1692.2 L465.4 1692.7 L463.0 1693.1 L464.0 1693.4 L469.8 1693.7 L481.7 1694.0 L500.9 1694.2 L530.3 1694.4 L570.3 1694.5 L618.1 1694.6 L671.1 1694.6 L726.7 1694.6 L782.2 1694.6 L835.0 1694.6 L882.4 1694.5 L921.8 1694.5 L950.5 1694.5" fill="none" stroke="#2b74ad" stroke-width="1.80" stroke-linejoin="round"/><g><text transform="translate(106.80 1701.65) scale(1.0000 0.8870)" text-anchor="end">0</text><text transform="translate(106.80 1657.15) scale(1.0000 0.8870)" text-anchor="end">200</text><text transform="translate(106.80 1612.65) scale(1.0000 0.8870)" text-anchor="end">400</text><text transform="translate(106.80 1568.15) scale(1.0000 0.8870)" text-anchor="end">600</text><text transform="translate(106.80 1523.65) scale(1.0000 0.8870)" text-anchor="end">800</text><text transform="translate(106.80 1479.15) scale(1.0000 0.8870)" text-anchor="end">1000</text><text transform="translate(106.80 1434.65) scale(1.0000 0.8870)" text-anchor="end">1200</text><text transform="translate(162.20 1707.40) scale(1.0000 0.8870) rotate(-90)" text-anchor="end">−4</text><text transform="translate(285.00 1707.40) scale(1.0000 0.8870) rotate(-90)" text-anchor="end">−2</text><text transform="translate(407.80 1707.40) scale(1.0000 0.8870) rotate(-90)" text-anchor="end">0</text><text transform="translate(530.60 1707.40) scale(1.0000 0.8870) rotate(-90)" text-anchor="end">2</text><text transform="translate(653.40 1707.40) scale(1.0000 0.8870) rotate(-90)" text-anchor="end">4</text><text transform="translate(776.20 1707.40) scale(1.0000 0.8870) rotate(-90)" text-anchor="end">6</text><text transform="translate(899.00 1707.40) scale(1.0000 0.8870) rotate(-90)" text-anchor="end">8</text></g><text transform="translate(554.70 1381.60) scale(1.0120 0.8870)" text-anchor="middle">Histogram of c_cdr</text><text transform="translate(555.40 1757.50) scale(1.0000 0.8870)" text-anchor="middle">c_cdr</text><text transform="translate(31.60 1545.70) scale(1.0000 0.8870) rotate(-90)" text-anchor="middle">Frequency</text><rect x="1118.00" y="1390.20" width="874.50" height="306.90" fill="none" stroke="#888888" stroke-width="2.4"/><g stroke="#888888" stroke-width="2.2"><line x1="1112.00" y1="1697.10" x2="1118.00" y2="1697.10"/><line x1="1112.00" y1="1660.41" x2="1118.00" y2="1660.41"/><line x1="1112.00" y1="1623.72" x2="1118.00" y2="1623.72"/><line x1="1112.00" y1="1587.04" x2="1118.00" y2="1587.04"/><line x1="1112.00" y1="1550.35" x2="1118.00" y2="1550.35"/><line x1="1112.00" y1="1513.66" x2="1118.00" y2="1513.66"/><line x1="1112.00" y1="1476.97" x2="1118.00" y2="1476.97"/><line x1="1112.00" y1="1440.29" x2="1118.00" y2="1440.29"/><line x1="1112.00" y1="1403.60" x2="1118.00" y2="1403.60"/><line x1="1179.20" y1="1697.10" x2="1179.20" y2="1702.42"/><line x1="1312.32" y1="1697.10" x2="1312.32" y2="1702.42"/><line x1="1445.44" y1="1697.10" x2="1445.44" y2="1702.42"/><line x1="1578.56" y1="1697.10" x2="1578.56" y2="1702.42"/><line x1="1711.68" y1="1697.10" x2="1711.68" y2="1702.42"/><line x1="1844.80" y1="1697.10" x2="1844.80" y2="1702.42"/><line x1="1977.92" y1="1697.10" x2="1977.92" y2="1702.42"/></g><g fill="#1e262e" stroke="#0b131b" stroke-width="2.00"><rect x="1157.00" y="1402.72" width="2.60" height="294.38"/><rect x="1159.60" y="1653.96" width="2.60" height="43.14"/><rect x="1162.20" y="1676.55" width="2.60" height="20.55"/><rect x="1164.80" y="1684.04" width="2.60" height="13.06"/><rect x="1167.40" y="1688.74" width="2.60" height="8.36"/><rect x="1170.00" y="1689.47" width="2.60" height="7.63"/><rect x="1172.60" y="1691.23" width="2.60" height="5.87"/><rect x="1175.20" y="1692.70" width="2.60" height="4.40"/><rect x="1177.80" y="1612.57" width="2.60" height="84.53"/><rect x="1180.40" y="1691.23" width="2.60" height="5.87"/><rect x="1183.00" y="1692.70" width="2.60" height="4.40"/><rect x="1185.60" y="1694.16" width="2.60" height="2.93"/><rect x="1188.20" y="1694.90" width="2.60" height="2.20"/><rect x="1190.80" y="1695.63" width="2.60" height="1.47"/><rect x="1193.40" y="1695.93" width="2.60" height="1.17"/><rect x="1196.00" y="1696.22" width="2.60" height="0.88"/><rect x="1198.60" y="1696.37" width="2.60" height="0.73"/><rect x="1201.20" y="1696.51" width="2.60" height="0.59"/><rect x="1203.80" y="1696.66" width="2.60" height="0.44"/><rect x="1206.40" y="1696.66" width="2.60" height="0.44"/><rect x="1209.00" y="1696.81" width="2.60" height="0.29"/><rect x="1211.60" y="1696.81" width="2.60" height="0.29"/><rect x="1214.20" y="1696.81" width="2.60" height="0.29"/><rect x="1216.80" y="1696.81" width="2.60" height="0.29"/><rect x="1219.40" y="1696.95" width="2.60" height="0.15"/><rect x="1222.00" y="1696.95" width="2.60" height="0.15"/><rect x="1224.60" y="1696.95" width="2.60" height="0.15"/><rect x="1227.20" y="1696.95" width="2.60" height="0.15"/><rect x="1229.80" y="1696.95" width="2.60" height="0.15"/><rect x="1232.40" y="1696.95" width="2.60" height="0.15"/><rect x="1235.00" y="1697.03" width="2.60" height="0.07"/><rect x="1237.60" y="1697.03" width="2.60" height="0.07"/><rect x="1240.20" y="1697.03" width="2.60" height="0.07"/><rect x="1242.80" y="1697.03" width="2.60" height="0.07"/><rect x="1245.40" y="1697.03" width="2.60" height="0.07"/><rect x="1248.00" y="1697.03" width="2.60" height="0.07"/><rect x="1250.60" y="1697.03" width="2.60" height="0.07"/><rect x="1253.20" y="1697.03" width="2.60" height="0.07"/><rect x="1255.80" y="1697.03" width="2.60" height="0.07"/><rect x="1258.40" y="1697.03" width="2.60" height="0.07"/><rect x="1261.00" y="1697.03" width="2.60" height="0.07"/><rect x="1263.60" y="1697.03" width="2.60" height="0.07"/><rect x="1266.20" y="1697.03" width="2.60" height="0.07"/><rect x="1268.80" y="1697.03" width="2.60" height="0.07"/><rect x="1271.40" y="1697.03" width="2.60" height="0.07"/><rect x="1274.00" y="1697.03" width="2.60" height="0.07"/><rect x="1276.60" y="1697.03" width="2.60" height="0.07"/><rect x="1279.20" y="1697.03" width="2.60" height="0.07"/><rect x="1281.80" y="1697.03" width="2.60" height="0.07"/><rect x="1284.40" y="1697.03" width="2.60" height="0.07"/><rect x="1287.00" y="1697.03" width="2.60" height="0.07"/><rect x="1289.60" y="1697.03" width="2.60" height="0.07"/><rect x="1292.20" y="1697.03" width="2.60" height="0.07"/><rect x="1294.80" y="1697.03" width="2.60" height="0.07"/><rect x="1297.40" y="1697.03" width="2.60" height="0.07"/><rect x="1300.00" y="1697.03" width="2.60" height="0.07"/><rect x="1302.60" y="1697.03" width="2.60" height="0.07"/><rect x="1305.20" y="1697.03" width="2.60" height="0.07"/><rect x="1307.80" y="1697.03" width="2.60" height="0.07"/><rect x="1310.40" y="1697.03" width="2.60" height="0.07"/><rect x="1313.00" y="1697.03" width="2.60" height="0.07"/><rect x="1315.60" y="1697.03" width="2.60" height="0.07"/><rect x="1318.20" y="1697.03" width="2.60" height="0.07"/><rect x="1320.80" y="1697.03" width="2.60" height="0.07"/><rect x="1323.40" y="1697.03" width="2.60" height="0.07"/><rect x="1326.00" y="1697.03" width="2.60" height="0.07"/><rect x="1328.60" y="1697.03" width="2.60" height="0.07"/><rect x="1331.20" y="1697.03" width="2.60" height="0.07"/><rect x="1333.80" y="1697.03" width="2.60" height="0.07"/><rect x="1336.40" y="1697.03" width="2.60" height="0.07"/><rect x="1339.00" y="1697.03" width="2.60" height="0.07"/><rect x="1341.60" y="1697.03" width="2.60" height="0.07"/><rect x="1344.20" y="1697.03" width="2.60" height="0.07"/><rect x="1346.80" y="1697.03" width="2.60" height="0.07"/><rect x="1349.40" y="1697.03" width="2.60" height="0.07"/><rect x="1352.00" y="1697.03" width="2.60" height="0.07"/><rect x="1354.60" y="1697.03" width="2.60" height="0.07"/><rect x="1357.20" y="1697.03" width="2.60" height="0.07"/><rect x="1359.80" y="1697.03" width="2.60" height="0.07"/><rect x="1362.40" y="1697.03" width="2.60" height="0.07"/><rect x="1365.00" y="1697.03" width="2.60" height="0.07"/><rect x="1367.60" y="1697.03" width="2.60" height="0.07"/><rect x="1370.20" y="1697.03" width="2.60" height="0.07"/><rect x="1372.80" y="1697.03" width="2.60" height="0.07"/><rect x="1375.40" y="1697.03" width="2.60" height="0.07"/><rect x="1378.00" y="1697.03" width="2.60" height="0.07"/><rect x="1380.60" y="1697.03" width="2.60" height="0.07"/><rect x="1383.20" y="1697.03" width="2.60" height="0.07"/><rect x="1385.80" y="1697.03" width="2.60" height="0.07"/><rect x="1388.40" y="1697.03" width="2.60" height="0.07"/><rect x="1391.00" y="1697.03" width="2.60" height="0.07"/><rect x="1393.60" y="1697.03" width="2.60" height="0.07"/><rect x="1396.20" y="1697.03" width="2.60" height="0.07"/><rect x="1398.80" y="1697.03" width="2.60" height="0.07"/><rect x="1401.40" y="1697.03" width="2.60" height="0.07"/><rect x="1404.00" y="1697.03" width="2.60" height="0.07"/><rect x="1406.60" y="1697.03" width="2.60" height="0.07"/><rect x="1409.20" y="1697.03" width="2.60" height="0.07"/><rect x="1411.80" y="1697.03" width="2.60" height="0.07"/><rect x="1414.40" y="1697.03" width="2.60" height="0.07"/><rect x="1417.00" y="1697.03" width="2.60" height="0.07"/><rect x="1419.60" y="1697.03" width="2.60" height="0.07"/><rect x="1422.20" y="1697.03" width="2.60" height="0.07"/><rect x="1424.80" y="1697.03" width="2.60" height="0.07"/><rect x="1427.40" y="1697.03" width="2.60" height="0.07"/><rect x="1430.00" y="1697.03" width="2.60" height="0.07"/><rect x="1432.60" y="1697.03" width="2.60" height="0.07"/><rect x="1435.20" y="1697.03" width="2.60" height="0.07"/><rect x="1437.80" y="1697.03" width="2.60" height="0.07"/><rect x="1440.40" y="1697.03" width="2.60" height="0.07"/><rect x="1443.00" y="1697.03" width="2.60" height="0.07"/><rect x="1445.60" y="1697.03" width="2.60" height="0.07"/><rect x="1448.20" y="1697.03" width="2.60" height="0.07"/><rect x="1450.80" y="1697.03" width="2.60" height="0.07"/><rect x="1453.40" y="1697.03" width="2.60" height="0.07"/><rect x="1456.00" y="1697.03" width="2.60" height="0.07"/><rect x="1458.60" y="1697.03" width="2.60" height="0.07"/><rect x="1461.20" y="1697.03" width="2.60" height="0.07"/><rect x="1463.80" y="1697.03" width="2.60" height="0.07"/><rect x="1466.40" y="1697.03" width="2.60" height="0.07"/><rect x="1469.00" y="1697.03" width="2.60" height="0.07"/><rect x="1471.60" y="1697.03" width="2.60" height="0.07"/><rect x="1474.20" y="1697.03" width="2.60" height="0.07"/><rect x="1476.80" y="1697.03" width="2.60" height="0.07"/><rect x="1479.40" y="1697.03" width="2.60" height="0.07"/><rect x="1482.00" y="1697.03" width="2.60" height="0.07"/><rect x="1484.60" y="1697.03" width="2.60" height="0.07"/><rect x="1487.20" y="1697.03" width="2.60" height="0.07"/><rect x="1489.80" y="1697.03" width="2.60" height="0.07"/><rect x="1492.40" y="1697.03" width="2.60" height="0.07"/><rect x="1495.00" y="1697.03" width="2.60" height="0.07"/><rect x="1497.60" y="1697.03" width="2.60" height="0.07"/><rect x="1500.20" y="1697.03" width="2.60" height="0.07"/><rect x="1502.80" y="1697.03" width="2.60" height="0.07"/><rect x="1505.40" y="1697.03" width="2.60" height="0.07"/><rect x="1508.00" y="1697.03" width="2.60" height="0.07"/><rect x="1510.60" y="1697.03" width="2.60" height="0.07"/><rect x="1513.20" y="1697.03" width="2.60" height="0.07"/><rect x="1515.80" y="1697.03" width="2.60" height="0.07"/><rect x="1518.40" y="1697.03" width="2.60" height="0.07"/><rect x="1521.00" y="1697.03" width="2.60" height="0.07"/><rect x="1523.60" y="1697.03" width="2.60" height="0.07"/><rect x="1526.20" y="1697.03" width="2.60" height="0.07"/><rect x="1528.80" y="1697.03" width="2.60" height="0.07"/><rect x="1531.40" y="1697.03" width="2.60" height="0.07"/><rect x="1534.00" y="1697.03" width="2.60" height="0.07"/><rect x="1536.60" y="1697.03" width="2.60" height="0.07"/><rect x="1539.20" y="1697.03" width="2.60" height="0.07"/><rect x="1541.80" y="1697.03" width="2.60" height="0.07"/><rect x="1544.40" y="1697.03" width="2.60" height="0.07"/><rect x="1547.00" y="1697.03" width="2.60" height="0.07"/><rect x="1549.60" y="1697.03" width="2.60" height="0.07"/><rect x="1552.20" y="1697.03" width="2.60" height="0.07"/><rect x="1554.80" y="1697.03" width="2.60" height="0.07"/><rect x="1557.40" y="1697.03" width="2.60" height="0.07"/><rect x="1560.00" y="1697.03" width="2.60" height="0.07"/><rect x="1562.60" y="1697.03" width="2.60" height="0.07"/><rect x="1565.20" y="1697.03" width="2.60" height="0.07"/><rect x="1567.80" y="1697.03" width="2.60" height="0.07"/><rect x="1570.40" y="1697.03" width="2.60" height="0.07"/><rect x="1573.00" y="1697.03" width="2.60" height="0.07"/><rect x="1575.60" y="1697.03" width="2.60" height="0.07"/><rect x="1578.20" y="1697.03" width="2.60" height="0.07"/><rect x="1580.80" y="1697.03" width="2.60" height="0.07"/><rect x="1583.40" y="1697.03" width="2.60" height="0.07"/><rect x="1586.00" y="1697.03" width="2.60" height="0.07"/><rect x="1588.60" y="1697.03" width="2.60" height="0.07"/><rect x="1591.20" y="1697.03" width="2.60" height="0.07"/><rect x="1593.80" y="1697.03" width="2.60" height="0.07"/><rect x="1596.40" y="1697.03" width="2.60" height="0.07"/><rect x="1599.00" y="1697.03" width="2.60" height="0.07"/><rect x="1601.60" y="1697.03" width="2.60" height="0.07"/><rect x="1604.20" y="1697.03" width="2.60" height="0.07"/><rect x="1606.80" y="1697.03" width="2.60" height="0.07"/><rect x="1609.40" y="1697.03" width="2.60" height="0.07"/><rect x="1612.00" y="1697.03" width="2.60" height="0.07"/><rect x="1614.60" y="1697.03" width="2.60" height="0.07"/><rect x="1617.20" y="1697.03" width="2.60" height="0.07"/><rect x="1619.80" y="1697.03" width="2.60" height="0.07"/><rect x="1622.40" y="1697.03" width="2.60" height="0.07"/><rect x="1625.00" y="1697.03" width="2.60" height="0.07"/><rect x="1627.60" y="1697.03" width="2.60" height="0.07"/><rect x="1630.20" y="1697.03" width="2.60" height="0.07"/><rect x="1632.80" y="1697.03" width="2.60" height="0.07"/><rect x="1635.40" y="1697.03" width="2.60" height="0.07"/><rect x="1638.00" y="1697.03" width="2.60" height="0.07"/><rect x="1640.60" y="1697.03" width="2.60" height="0.07"/><rect x="1643.20" y="1697.03" width="2.60" height="0.07"/><rect x="1645.80" y="1697.03" width="2.60" height="0.07"/><rect x="1648.40" y="1697.03" width="2.60" height="0.07"/><rect x="1651.00" y="1697.03" width="2.60" height="0.07"/><rect x="1653.60" y="1697.03" width="2.60" height="0.07"/><rect x="1656.20" y="1697.03" width="2.60" height="0.07"/><rect x="1658.80" y="1697.03" width="2.60" height="0.07"/><rect x="1661.40" y="1697.03" width="2.60" height="0.07"/><rect x="1664.00" y="1697.03" width="2.60" height="0.07"/><rect x="1666.60" y="1697.03" width="2.60" height="0.07"/><rect x="1669.20" y="1697.03" width="2.60" height="0.07"/><rect x="1671.80" y="1697.03" width="2.60" height="0.07"/><rect x="1674.40" y="1697.03" width="2.60" height="0.07"/><rect x="1677.00" y="1697.03" width="2.60" height="0.07"/><rect x="1679.60" y="1697.03" width="2.60" height="0.07"/><rect x="1682.20" y="1697.03" width="2.60" height="0.07"/><rect x="1684.80" y="1697.03" width="2.60" height="0.07"/><rect x="1687.40" y="1697.03" width="2.60" height="0.07"/><rect x="1690.00" y="1697.03" width="2.60" height="0.07"/><rect x="1692.60" y="1697.03" width="2.60" height="0.07"/><rect x="1695.20" y="1697.03" width="2.60" height="0.07"/><rect x="1697.80" y="1697.03" width="2.60" height="0.07"/><rect x="1700.40" y="1697.03" width="2.60" height="0.07"/><rect x="1703.00" y="1697.03" width="2.60" height="0.07"/><rect x="1705.60" y="1697.03" width="2.60" height="0.07"/><rect x="1708.20" y="1697.03" width="2.60" height="0.07"/><rect x="1710.80" y="1697.03" width="2.60" height="0.07"/><rect x="1713.40" y="1697.03" width="2.60" height="0.07"/><rect x="1716.00" y="1697.03" width="2.60" height="0.07"/><rect x="1718.60" y="1697.03" width="2.60" height="0.07"/><rect x="1721.20" y="1697.03" width="2.60" height="0.07"/><rect x="1723.80" y="1697.03" width="2.60" height="0.07"/><rect x="1726.40" y="1697.03" width="2.60" height="0.07"/><rect x="1729.00" y="1697.03" width="2.60" height="0.07"/><rect x="1731.60" y="1697.03" width="2.60" height="0.07"/><rect x="1734.20" y="1697.03" width="2.60" height="0.07"/><rect x="1736.80" y="1697.03" width="2.60" height="0.07"/><rect x="1739.40" y="1697.03" width="2.60" height="0.07"/><rect x="1742.00" y="1697.03" width="2.60" height="0.07"/><rect x="1744.60" y="1697.03" width="2.60" height="0.07"/><rect x="1747.20" y="1697.03" width="2.60" height="0.07"/><rect x="1749.80" y="1697.03" width="2.60" height="0.07"/><rect x="1752.40" y="1697.03" width="2.60" height="0.07"/><rect x="1755.00" y="1697.03" width="2.60" height="0.07"/><rect x="1757.60" y="1697.03" width="2.60" height="0.07"/><rect x="1760.20" y="1697.03" width="2.60" height="0.07"/><rect x="1762.80" y="1697.03" width="2.60" height="0.07"/><rect x="1765.40" y="1697.03" width="2.60" height="0.07"/><rect x="1768.00" y="1697.03" width="2.60" height="0.07"/><rect x="1770.60" y="1697.03" width="2.60" height="0.07"/><rect x="1773.20" y="1697.03" width="2.60" height="0.07"/><rect x="1775.80" y="1697.03" width="2.60" height="0.07"/><rect x="1778.40" y="1697.03" width="2.60" height="0.07"/><rect x="1781.00" y="1697.03" width="2.60" height="0.07"/><rect x="1783.60" y="1697.03" width="2.60" height="0.07"/><rect x="1786.20" y="1697.03" width="2.60" height="0.07"/><rect x="1788.80" y="1697.03" width="2.60" height="0.07"/><rect x="1791.40" y="1697.03" width="2.60" height="0.07"/><rect x="1794.00" y="1697.03" width="2.60" height="0.07"/><rect x="1796.60" y="1697.03" width="2.60" height="0.07"/><rect x="1799.20" y="1697.03" width="2.60" height="0.07"/><rect x="1801.80" y="1697.03" width="2.60" height="0.07"/><rect x="1804.40" y="1697.03" width="2.60" height="0.07"/><rect x="1807.00" y="1697.03" width="2.60" height="0.07"/><rect x="1809.60" y="1697.03" width="2.60" height="0.07"/><rect x="1812.20" y="1697.03" width="2.60" height="0.07"/><rect x="1814.80" y="1697.03" width="2.60" height="0.07"/><rect x="1817.40" y="1697.03" width="2.60" height="0.07"/><rect x="1820.00" y="1697.03" width="2.60" height="0.07"/><rect x="1822.60" y="1697.03" width="2.60" height="0.07"/><rect x="1825.20" y="1697.03" width="2.60" height="0.07"/><rect x="1827.80" y="1697.03" width="2.60" height="0.07"/><rect x="1830.40" y="1697.03" width="2.60" height="0.07"/><rect x="1833.00" y="1697.03" width="2.60" height="0.07"/><rect x="1835.60" y="1697.03" width="2.60" height="0.07"/><rect x="1838.20" y="1697.03" width="2.60" height="0.07"/><rect x="1840.80" y="1697.03" width="2.60" height="0.07"/><rect x="1843.40" y="1697.03" width="2.60" height="0.07"/><rect x="1846.00" y="1697.03" width="2.60" height="0.07"/><rect x="1848.60" y="1697.03" width="2.60" height="0.07"/><rect x="1851.20" y="1697.03" width="2.60" height="0.07"/><rect x="1853.80" y="1697.03" width="2.60" height="0.07"/><rect x="1856.40" y="1697.03" width="2.60" height="0.07"/><rect x="1859.00" y="1697.03" width="2.60" height="0.07"/><rect x="1861.60" y="1697.03" width="2.60" height="0.07"/><rect x="1864.20" y="1697.03" width="2.60" height="0.07"/><rect x="1866.80" y="1697.03" width="2.60" height="0.07"/><rect x="1869.40" y="1697.03" width="2.60" height="0.07"/><rect x="1872.00" y="1697.03" width="2.60" height="0.07"/><rect x="1874.60" y="1697.03" width="2.60" height="0.07"/><rect x="1877.20" y="1697.03" width="2.60" height="0.07"/><rect x="1879.80" y="1697.03" width="2.60" height="0.07"/><rect x="1882.40" y="1697.03" width="2.60" height="0.07"/><rect x="1885.00" y="1697.03" width="2.60" height="0.07"/><rect x="1887.60" y="1697.03" width="2.60" height="0.07"/><rect x="1890.20" y="1697.03" width="2.60" height="0.07"/><rect x="1892.80" y="1697.03" width="2.60" height="0.07"/><rect x="1895.40" y="1697.03" width="2.60" height="0.07"/><rect x="1898.00" y="1697.03" width="2.60" height="0.07"/><rect x="1900.60" y="1697.03" width="2.60" height="0.07"/><rect x="1903.20" y="1697.03" width="2.60" height="0.07"/><rect x="1905.80" y="1697.03" width="2.60" height="0.07"/><rect x="1908.40" y="1697.03" width="2.60" height="0.07"/><rect x="1911.00" y="1697.03" width="2.60" height="0.07"/><rect x="1913.60" y="1697.03" width="2.60" height="0.07"/><rect x="1916.20" y="1697.03" width="2.60" height="0.07"/><rect x="1918.80" y="1697.03" width="2.60" height="0.07"/><rect x="1921.40" y="1697.03" width="2.60" height="0.07"/><rect x="1924.00" y="1697.03" width="2.60" height="0.07"/><rect x="1926.60" y="1697.03" width="2.60" height="0.07"/><rect x="1929.20" y="1697.03" width="2.60" height="0.07"/><rect x="1931.80" y="1697.03" width="2.60" height="0.07"/><rect x="1934.40" y="1697.03" width="2.60" height="0.07"/><rect x="1937.00" y="1697.03" width="2.60" height="0.07"/><rect x="1939.60" y="1697.03" width="2.60" height="0.07"/><rect x="1942.20" y="1697.03" width="2.60" height="0.07"/><rect x="1944.80" y="1697.03" width="2.60" height="0.07"/><rect x="1947.40" y="1697.03" width="2.60" height="0.07"/><rect x="1950.00" y="1697.03" width="2.60" height="0.07"/><rect x="1952.60" y="1697.03" width="2.60" height="0.07"/></g><path d="M1157.0 1660.6 L1157.4 1660.8 L1158.0 1660.9 L1158.6 1661.1 L1159.3 1661.4 L1160.1 1661.7 L1160.9 1661.9 L1161.8 1662.3 L1162.6 1662.6 L1163.3 1662.9 L1164.0 1663.3 L1164.6 1663.7 L1165.2 1664.1 L1165.8 1664.5 L1166.4 1665.0 L1167.0 1665.4 L1167.6 1665.9 L1168.2 1666.4 L1168.8 1666.9 L1169.4 1667.5 L1170.0 1668.0 L1170.6 1668.6 L1171.3 1669.1 L1172.0 1669.7 L1172.6 1670.3 L1173.3 1670.9 L1174.0 1671.5 L1174.7 1672.2 L1175.4 1672.9 L1176.2 1673.6 L1177.0 1674.4 L1177.8 1675.2 L1178.7 1676.1 L1179.6 1677.0 L1180.6 1678.0 L1181.5 1679.0 L1182.5 1680.0 L1183.4 1681.0 L1184.4 1681.9 L1185.4 1682.8 L1186.3 1683.7 L1187.2 1684.5 L1188.2 1685.3 L1189.1 1686.1 L1190.0 1686.9 L1191.0 1687.7 L1191.9 1688.4 L1192.8 1689.1 L1193.7 1689.8 L1194.7 1690.4 L1195.6 1691.0 L1196.5 1691.5 L1197.4 1692.0 L1198.4 1692.5 L1199.3 1692.9 L1200.2 1693.3 L1201.1 1693.7 L1202.0 1694.0 L1203.0 1694.3 L1203.9 1694.6 L1204.8 1694.8 L1205.4 1695.0 L1205.4 1695.2 L1205.1 1695.3 L1204.8 1695.4 L1204.6 1695.4 L1204.8 1695.5 L1205.6 1695.5 L1207.2 1695.6 L1210.0 1695.6 L1214.0 1695.7 L1216.9 1695.8 L1217.2 1695.8 L1216.2 1695.9 L1215.6 1696.0 L1216.7 1696.0 L1221.0 1696.1 L1230.0 1696.2 L1245.2 1696.2 L1268.0 1696.3 L1300.0 1696.3 L1345.4 1696.3 L1405.0 1696.4 L1475.2 1696.4 L1552.3 1696.4 L1632.7 1696.4 L1712.6 1696.5 L1788.4 1696.5 L1856.5 1696.5 L1913.1 1696.5 L1954.6 1696.5" fill="none" stroke="#2b74ad" stroke-width="1.80" stroke-linejoin="round"/><g><text transform="translate(1106.50 1704.55) scale(1.0000 0.8870)" text-anchor="end">0</text><text transform="translate(1106.50 1667.86) scale(1.0000 0.8870)" text-anchor="end">250</text><text transform="translate(1106.50 1631.18) scale(1.0000 0.8870)" text-anchor="end">500</text><text transform="translate(1106.50 1594.49) scale(1.0000 0.8870)" text-anchor="end">750</text><text transform="translate(1106.50 1557.80) scale(1.0000 0.8870)" text-anchor="end">1000</text><text transform="translate(1106.50 1521.11) scale(1.0000 0.8870)" text-anchor="end">1250</text><text transform="translate(1106.50 1484.43) scale(1.0000 0.8870)" text-anchor="end">1500</text><text transform="translate(1106.50 1447.74) scale(1.0000 0.8870)" text-anchor="end">1750</text><text transform="translate(1106.50 1411.05) scale(1.0000 0.8870)" text-anchor="end">2000</text><text transform="translate(1186.00 1710.30) scale(1.0000 0.8870) rotate(-90)" text-anchor="end">0</text><text transform="translate(1319.12 1710.30) scale(1.0000 0.8870) rotate(-90)" text-anchor="end">2</text><text transform="translate(1452.24 1710.30) scale(1.0000 0.8870) rotate(-90)" text-anchor="end">4</text><text transform="translate(1585.36 1710.30) scale(1.0000 0.8870) rotate(-90)" text-anchor="end">6</text><text transform="translate(1718.48 1710.30) scale(1.0000 0.8870) rotate(-90)" text-anchor="end">8</text><text transform="translate(1851.60 1710.30) scale(1.0000 0.8870) rotate(-90)" text-anchor="end">10</text><text transform="translate(1984.72 1710.30) scale(1.0000 0.8870) rotate(-90)" text-anchor="end">12</text></g><text transform="translate(1555.05 1381.70) scale(1.0130 0.8870)" text-anchor="middle">Histogram of e_inc_tbhiv_100k</text><text transform="translate(1555.25 1757.60) scale(1.0000 0.8870)" text-anchor="middle">e_inc_tbhiv_100k</text><text transform="translate(1030.40 1547.00) scale(1.0000 0.8870) rotate(-90)" text-anchor="middle">Frequency</text><rect x="1440" y="1353.9" width="240" height="9.3" fill="#fff"/>
</g></svg></div></body></html>
